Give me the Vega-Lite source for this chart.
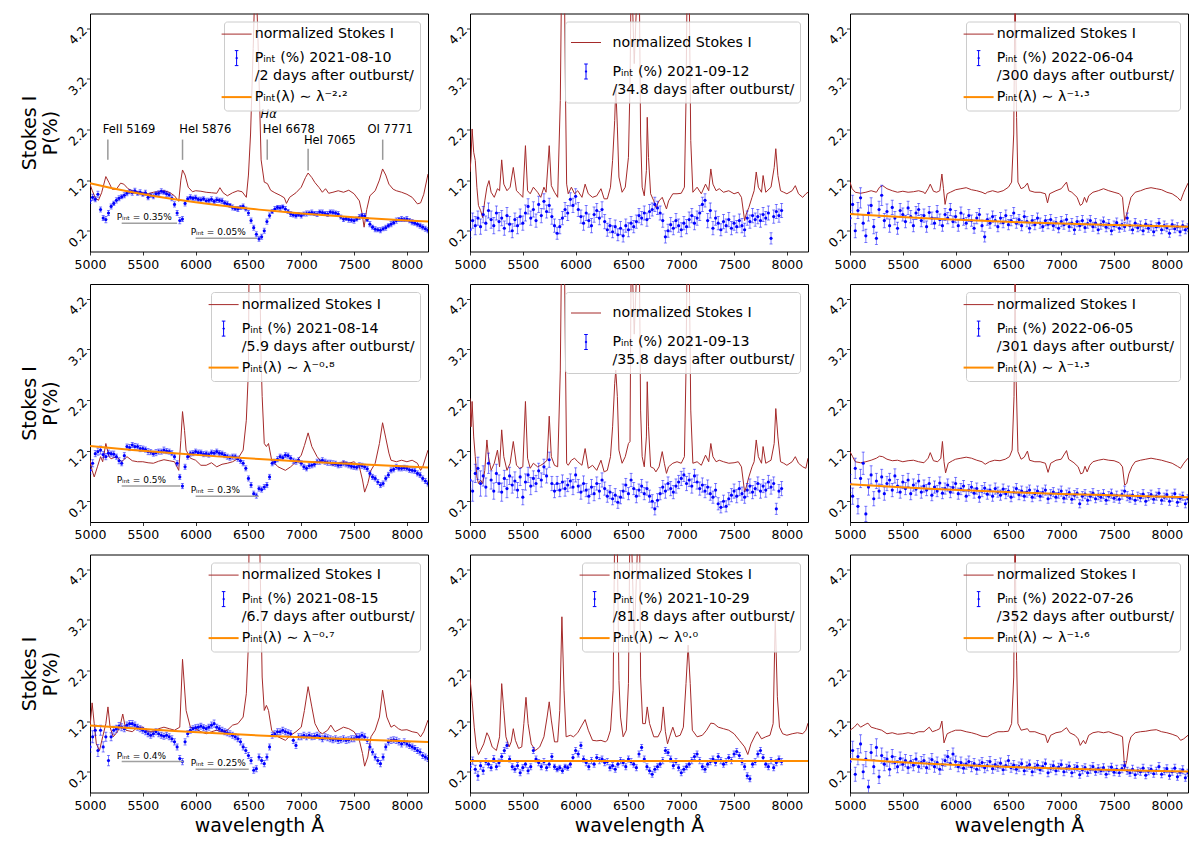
{
"$schema": "https://vega.github.io/schema/vega-lite/v6.json",
"padding": {"left": 19, "top": 12.5, "right": 10, "bottom": 4},
"background": "white",
"config": {
  "font": "DejaVu Sans",
  "view": {"stroke": "black", "strokeWidth": 1},
  "axis": {"grid": false, "domain": false, "tickColor": "black", "tickSize": 3.5, "tickWidth": 0.8, "labelColor": "black", "labelFontSize": 12.5, "labelFont": "DejaVu Sans", "titleFont": "DejaVu Sans", "titleFontSize": 19, "titleFontWeight": "normal", "titleColor": "black"},
  "axisY": {"labelAngle": -45, "labelPadding": 2, "titlePadding": 6, "titleLineHeight": 21},
  "axisX": {"labelPadding": 3, "titlePadding": 5},
  "legend": {"orient": "top-right", "offset": 8, "fillColor": "rgba(255,255,255,0.8)", "strokeColor": "#cccccc", "cornerRadius": 3, "padding": 5.5, "symbolSize": 900, "symbolType": "stroke", "symbolStrokeWidth": 1, "labelFontSize": 14.2, "labelLimit": 320, "labelOffset": 11, "rowPadding": 6, "labelFont": "DejaVu Sans", "labelColor": "black"}
},
"datasets": {
"i11": [{"w":5000,"y":1.12},{"w":5020,"y":1.0},{"w":5050,"y":0.85},{"w":5080,"y":0.8},{"w":5110,"y":0.95},{"w":5150,"y":1.27},{"w":5180,"y":1.15},{"w":5210,"y":1.02},{"w":5250,"y":1.02},{"w":5290,"y":1.14},{"w":5320,"y":1.12},{"w":5360,"y":1.03},{"w":5400,"y":0.99},{"w":5450,"y":0.97},{"w":5500,"y":0.95},{"w":5550,"y":0.93},{"w":5600,"y":0.96},{"w":5650,"y":0.97},{"w":5700,"y":0.99},{"w":5750,"y":0.96},{"w":5800,"y":0.89},{"w":5840,"y":0.78},{"w":5860,"y":1.2},{"w":5876,"y":1.4},{"w":5900,"y":1.3},{"w":5930,"y":1.06},{"w":5970,"y":0.97},{"w":6000,"y":0.99},{"w":6050,"y":0.98},{"w":6100,"y":0.96},{"w":6150,"y":0.95},{"w":6200,"y":0.94},{"w":6230,"y":1.05},{"w":6260,"y":0.95},{"w":6300,"y":0.89},{"w":6350,"y":0.95},{"w":6400,"y":0.99},{"w":6440,"y":0.97},{"w":6480,"y":0.86},{"w":6500,"y":1.3},{"w":6520,"y":2.11},{"w":6545,"y":3.8},{"w":6567,"y":5.5},{"w":6590,"y":4.0},{"w":6605,"y":2.8},{"w":6620,"y":1.6},{"w":6650,"y":1.16},{"w":6680,"y":1.13},{"w":6710,"y":1.0},{"w":6750,"y":0.95},{"w":6800,"y":0.9},{"w":6840,"y":0.85},{"w":6860,"y":0.74},{"w":6890,"y":0.86},{"w":6950,"y":0.95},{"w":7000,"y":1.06},{"w":7040,"y":1.25},{"w":7065,"y":1.34},{"w":7100,"y":1.25},{"w":7130,"y":1.15},{"w":7170,"y":1.05},{"w":7200,"y":0.96},{"w":7230,"y":1.03},{"w":7260,"y":0.94},{"w":7300,"y":0.96},{"w":7350,"y":0.99},{"w":7400,"y":0.96},{"w":7450,"y":1.0},{"w":7500,"y":0.93},{"w":7550,"y":0.79},{"w":7575,"y":0.55},{"w":7595,"y":0.27},{"w":7620,"y":0.62},{"w":7650,"y":0.89},{"w":7700,"y":0.99},{"w":7740,"y":1.2},{"w":7770,"y":1.42},{"w":7800,"y":1.3},{"w":7830,"y":1.12},{"w":7870,"y":1.02},{"w":7900,"y":0.99},{"w":7950,"y":0.96},{"w":8000,"y":0.92},{"w":8050,"y":0.86},{"w":8100,"y":0.73},{"w":8130,"y":0.75},{"w":8160,"y":0.92},{"w":8200,"y":1.32}],
"p11": [{"w":5000,"y":0.79,"e":0.05},{"w":5025,"y":0.86,"e":0.06},{"w":5050,"y":0.82,"e":0.05},{"w":5075,"y":0.92,"e":0.06},{"w":5100,"y":0.62,"e":0.05},{"w":5125,"y":0.45,"e":0.05},{"w":5150,"y":0.42,"e":0.06},{"w":5175,"y":0.55,"e":0.05},{"w":5200,"y":0.68,"e":0.05},{"w":5225,"y":0.74,"e":0.04},{"w":5250,"y":0.8,"e":0.05},{"w":5275,"y":0.84,"e":0.05},{"w":5300,"y":0.87,"e":0.04},{"w":5325,"y":0.9,"e":0.05},{"w":5350,"y":0.94,"e":0.05},{"w":5375,"y":0.97,"e":0.04},{"w":5400,"y":0.95,"e":0.05},{"w":5425,"y":0.99,"e":0.05},{"w":5450,"y":0.94,"e":0.04},{"w":5475,"y":0.96,"e":0.05},{"w":5500,"y":0.92,"e":0.04},{"w":5525,"y":0.95,"e":0.05},{"w":5550,"y":0.86,"e":0.05},{"w":5575,"y":0.9,"e":0.04},{"w":5600,"y":0.88,"e":0.05},{"w":5625,"y":0.93,"e":0.04},{"w":5650,"y":0.94,"e":0.05},{"w":5675,"y":0.98,"e":0.05},{"w":5700,"y":0.96,"e":0.04},{"w":5725,"y":0.93,"e":0.05},{"w":5750,"y":0.91,"e":0.04},{"w":5775,"y":0.84,"e":0.05},{"w":5800,"y":0.72,"e":0.05},{"w":5825,"y":0.55,"e":0.05},{"w":5850,"y":0.4,"e":0.06},{"w":5875,"y":0.43,"e":0.05},{"w":5900,"y":0.74,"e":0.05},{"w":5925,"y":0.83,"e":0.04},{"w":5950,"y":0.86,"e":0.05},{"w":5975,"y":0.84,"e":0.04},{"w":6000,"y":0.85,"e":0.05},{"w":6025,"y":0.82,"e":0.04},{"w":6050,"y":0.81,"e":0.05},{"w":6075,"y":0.83,"e":0.04},{"w":6100,"y":0.79,"e":0.05},{"w":6125,"y":0.8,"e":0.04},{"w":6150,"y":0.82,"e":0.05},{"w":6175,"y":0.78,"e":0.04},{"w":6200,"y":0.81,"e":0.05},{"w":6225,"y":0.8,"e":0.04},{"w":6250,"y":0.79,"e":0.05},{"w":6275,"y":0.75,"e":0.04},{"w":6300,"y":0.73,"e":0.05},{"w":6325,"y":0.7,"e":0.04},{"w":6350,"y":0.66,"e":0.05},{"w":6375,"y":0.64,"e":0.04},{"w":6400,"y":0.63,"e":0.05},{"w":6425,"y":0.66,"e":0.04},{"w":6450,"y":0.68,"e":0.05},{"w":6475,"y":0.63,"e":0.04},{"w":6500,"y":0.55,"e":0.05},{"w":6525,"y":0.4,"e":0.05},{"w":6550,"y":0.26,"e":0.05},{"w":6575,"y":0.13,"e":0.05},{"w":6600,"y":0.04,"e":0.05},{"w":6625,"y":0.08,"e":0.05},{"w":6650,"y":0.2,"e":0.05},{"w":6675,"y":0.38,"e":0.05},{"w":6700,"y":0.5,"e":0.05},{"w":6725,"y":0.58,"e":0.04},{"w":6750,"y":0.63,"e":0.05},{"w":6775,"y":0.66,"e":0.04},{"w":6800,"y":0.65,"e":0.05},{"w":6825,"y":0.67,"e":0.04},{"w":6850,"y":0.63,"e":0.05},{"w":6875,"y":0.58,"e":0.04},{"w":6900,"y":0.53,"e":0.05},{"w":6925,"y":0.51,"e":0.04},{"w":6950,"y":0.5,"e":0.05},{"w":6975,"y":0.52,"e":0.04},{"w":7000,"y":0.5,"e":0.05},{"w":7025,"y":0.53,"e":0.04},{"w":7050,"y":0.54,"e":0.05},{"w":7075,"y":0.55,"e":0.04},{"w":7100,"y":0.56,"e":0.05},{"w":7125,"y":0.54,"e":0.04},{"w":7150,"y":0.53,"e":0.05},{"w":7175,"y":0.57,"e":0.04},{"w":7200,"y":0.56,"e":0.05},{"w":7225,"y":0.54,"e":0.04},{"w":7250,"y":0.53,"e":0.05},{"w":7275,"y":0.57,"e":0.04},{"w":7300,"y":0.56,"e":0.05},{"w":7325,"y":0.55,"e":0.04},{"w":7350,"y":0.53,"e":0.05},{"w":7375,"y":0.47,"e":0.04},{"w":7400,"y":0.43,"e":0.05},{"w":7425,"y":0.44,"e":0.04},{"w":7450,"y":0.42,"e":0.05},{"w":7475,"y":0.41,"e":0.04},{"w":7500,"y":0.4,"e":0.05},{"w":7525,"y":0.43,"e":0.04},{"w":7550,"y":0.47,"e":0.05},{"w":7575,"y":0.5,"e":0.04},{"w":7600,"y":0.49,"e":0.05},{"w":7625,"y":0.42,"e":0.04},{"w":7650,"y":0.33,"e":0.05},{"w":7675,"y":0.27,"e":0.04},{"w":7700,"y":0.23,"e":0.05},{"w":7725,"y":0.22,"e":0.04},{"w":7750,"y":0.21,"e":0.05},{"w":7775,"y":0.24,"e":0.04},{"w":7800,"y":0.26,"e":0.05},{"w":7825,"y":0.3,"e":0.04},{"w":7850,"y":0.33,"e":0.05},{"w":7875,"y":0.36,"e":0.04},{"w":7900,"y":0.4,"e":0.05},{"w":7925,"y":0.42,"e":0.04},{"w":7950,"y":0.43,"e":0.05},{"w":7975,"y":0.42,"e":0.04},{"w":8000,"y":0.43,"e":0.05},{"w":8025,"y":0.4,"e":0.04},{"w":8050,"y":0.37,"e":0.05},{"w":8075,"y":0.35,"e":0.04},{"w":8100,"y":0.33,"e":0.05},{"w":8125,"y":0.3,"e":0.05},{"w":8150,"y":0.27,"e":0.05},{"w":8175,"y":0.24,"e":0.05},{"w":8200,"y":0.21,"e":0.05}],
"f11": [{"w":5000,"y":1.137},{"w":5200,"y":1.043},{"w":5400,"y":0.96},{"w":5600,"y":0.886},{"w":5800,"y":0.82},{"w":6000,"y":0.761},{"w":6200,"y":0.708},{"w":6400,"y":0.661},{"w":6600,"y":0.617},{"w":6800,"y":0.578},{"w":7000,"y":0.542},{"w":7200,"y":0.51},{"w":7400,"y":0.48},{"w":7600,"y":0.453},{"w":7800,"y":0.427},{"w":8000,"y":0.404},{"w":8200,"y":0.383}],
"t11": [{"w":5120,"y":2.18,"t":"FeII 5169"},{"w":5845,"y":2.18,"t":"HeI 5876"},{"w":6636,"y":2.18,"t":"HeI 6678"},{"w":7025,"y":1.98,"t":"HeI 7065"},{"w":7627,"y":2.18,"t":"OI 7771"}],
"ha11": [{"w":6614,"y":2.49,"t":"Hα"}],
"r11": [{"w":5169,"y":2.0,"y2":1.6},{"w":5876,"y":2.0,"y2":1.6},{"w":6678,"y":2.0,"y2":1.6},{"w":7065,"y":1.82,"y2":1.39},{"w":7771,"y":2.0,"y2":1.6}],
"h11": [{"w":5300,"w2":5825,"y":0.35,"t":"Pᵢₙₜ = 0.35%"},{"w":6000,"w2":6583,"y":0.05,"t":"Pᵢₙₜ = 0.05%"}],
"i21": [{"w":5000,"y":1.01},{"w":5020,"y":0.81},{"w":5040,"y":0.68},{"w":5070,"y":0.88},{"w":5100,"y":1.08},{"w":5120,"y":0.98},{"w":5150,"y":1.34},{"w":5180,"y":1.08},{"w":5200,"y":1.04},{"w":5250,"y":1.08},{"w":5300,"y":0.98},{"w":5350,"y":1.08},{"w":5400,"y":1.0},{"w":5450,"y":0.98},{"w":5500,"y":0.98},{"w":5550,"y":0.96},{"w":5600,"y":0.95},{"w":5650,"y":0.99},{"w":5700,"y":1.02},{"w":5750,"y":1.0},{"w":5800,"y":0.98},{"w":5840,"y":0.81},{"w":5860,"y":1.4},{"w":5876,"y":1.97},{"w":5895,"y":1.6},{"w":5910,"y":1.21},{"w":5950,"y":1.05},{"w":6000,"y":1.01},{"w":6050,"y":0.91},{"w":6100,"y":0.91},{"w":6150,"y":0.96},{"w":6200,"y":0.88},{"w":6250,"y":0.93},{"w":6300,"y":0.95},{"w":6350,"y":0.98},{"w":6400,"y":1.04},{"w":6450,"y":1.21},{"w":6480,"y":1.8},{"w":6500,"y":2.79},{"w":6505,"y":4.6},{"w":6520,"y":5.5},{"w":6590,"y":5.5},{"w":6608,"y":4.6},{"w":6620,"y":3.0},{"w":6630,"y":2.27},{"w":6650,"y":1.34},{"w":6670,"y":1.28},{"w":6690,"y":1.34},{"w":6720,"y":1.01},{"w":6780,"y":0.88},{"w":6850,"y":0.81},{"w":6900,"y":0.88},{"w":6950,"y":0.98},{"w":7000,"y":1.11},{"w":7030,"y":1.3},{"w":7065,"y":1.55},{"w":7100,"y":1.28},{"w":7150,"y":1.08},{"w":7200,"y":0.96},{"w":7250,"y":0.98},{"w":7300,"y":0.91},{"w":7350,"y":0.95},{"w":7400,"y":0.98},{"w":7450,"y":0.95},{"w":7500,"y":0.98},{"w":7550,"y":0.88},{"w":7580,"y":0.62},{"w":7600,"y":0.38},{"w":7630,"y":0.55},{"w":7660,"y":0.81},{"w":7700,"y":0.95},{"w":7740,"y":1.34},{"w":7770,"y":1.75},{"w":7800,"y":1.45},{"w":7830,"y":1.15},{"w":7850,"y":1.01},{"w":7900,"y":0.98},{"w":7950,"y":1.01},{"w":8000,"y":0.98},{"w":8050,"y":1.01},{"w":8100,"y":0.95},{"w":8130,"y":0.81},{"w":8150,"y":0.88},{"w":8200,"y":1.21}],
"p21": [{"w":5000,"y":0.81,"e":0.07},{"w":5025,"y":0.95,"e":0.07},{"w":5050,"y":1.14,"e":0.06},{"w":5075,"y":1.18,"e":0.07},{"w":5100,"y":1.21,"e":0.08},{"w":5125,"y":1.12,"e":0.06},{"w":5150,"y":1.08,"e":0.06},{"w":5175,"y":1.15,"e":0.06},{"w":5200,"y":1.14,"e":0.05},{"w":5225,"y":1.13,"e":0.06},{"w":5250,"y":1.08,"e":0.05},{"w":5275,"y":1.0,"e":0.06},{"w":5300,"y":0.95,"e":0.05},{"w":5325,"y":1.1,"e":0.06},{"w":5350,"y":1.28,"e":0.05},{"w":5375,"y":1.26,"e":0.06},{"w":5400,"y":1.31,"e":0.05},{"w":5425,"y":1.28,"e":0.06},{"w":5450,"y":1.28,"e":0.05},{"w":5475,"y":1.24,"e":0.06},{"w":5500,"y":1.24,"e":0.05},{"w":5525,"y":1.22,"e":0.05},{"w":5550,"y":1.18,"e":0.06},{"w":5575,"y":1.17,"e":0.05},{"w":5600,"y":1.14,"e":0.05},{"w":5625,"y":1.16,"e":0.06},{"w":5650,"y":1.18,"e":0.05},{"w":5675,"y":1.18,"e":0.05},{"w":5700,"y":1.21,"e":0.06},{"w":5725,"y":1.19,"e":0.05},{"w":5750,"y":1.18,"e":0.05},{"w":5775,"y":1.15,"e":0.05},{"w":5800,"y":1.08,"e":0.05},{"w":5825,"y":0.95,"e":0.05},{"w":5850,"y":0.68,"e":0.05},{"w":5875,"y":0.5,"e":0.05},{"w":5900,"y":0.88,"e":0.05},{"w":5925,"y":1.08,"e":0.05},{"w":5950,"y":1.14,"e":0.05},{"w":5975,"y":1.15,"e":0.05},{"w":6000,"y":1.18,"e":0.05},{"w":6025,"y":1.16,"e":0.05},{"w":6050,"y":1.16,"e":0.05},{"w":6075,"y":1.13,"e":0.05},{"w":6100,"y":1.14,"e":0.05},{"w":6125,"y":1.12,"e":0.05},{"w":6150,"y":1.16,"e":0.05},{"w":6175,"y":1.15,"e":0.05},{"w":6200,"y":1.18,"e":0.05},{"w":6225,"y":1.15,"e":0.05},{"w":6250,"y":1.14,"e":0.05},{"w":6275,"y":1.11,"e":0.05},{"w":6300,"y":1.08,"e":0.05},{"w":6325,"y":1.06,"e":0.05},{"w":6350,"y":1.08,"e":0.05},{"w":6375,"y":1.08,"e":0.05},{"w":6400,"y":1.04,"e":0.05},{"w":6425,"y":1.0,"e":0.05},{"w":6450,"y":0.95,"e":0.05},{"w":6475,"y":0.85,"e":0.05},{"w":6500,"y":0.65,"e":0.05},{"w":6525,"y":0.52,"e":0.05},{"w":6550,"y":0.35,"e":0.05},{"w":6575,"y":0.31,"e":0.05},{"w":6600,"y":0.45,"e":0.05},{"w":6625,"y":0.43,"e":0.05},{"w":6650,"y":0.48,"e":0.05},{"w":6675,"y":0.52,"e":0.05},{"w":6700,"y":0.68,"e":0.05},{"w":6725,"y":0.95,"e":0.05},{"w":6750,"y":0.98,"e":0.05},{"w":6775,"y":1.03,"e":0.05},{"w":6800,"y":1.08,"e":0.05},{"w":6825,"y":1.06,"e":0.05},{"w":6850,"y":1.11,"e":0.05},{"w":6875,"y":1.1,"e":0.05},{"w":6900,"y":1.05,"e":0.05},{"w":6925,"y":1.0,"e":0.05},{"w":6950,"y":0.98,"e":0.05},{"w":6975,"y":1.01,"e":0.05},{"w":7000,"y":0.95,"e":0.05},{"w":7025,"y":0.88,"e":0.05},{"w":7050,"y":0.85,"e":0.05},{"w":7075,"y":0.9,"e":0.05},{"w":7100,"y":0.91,"e":0.05},{"w":7125,"y":0.93,"e":0.05},{"w":7150,"y":0.98,"e":0.05},{"w":7175,"y":0.98,"e":0.05},{"w":7200,"y":1.01,"e":0.05},{"w":7225,"y":0.98,"e":0.05},{"w":7250,"y":0.96,"e":0.05},{"w":7275,"y":0.96,"e":0.05},{"w":7300,"y":0.95,"e":0.05},{"w":7325,"y":0.94,"e":0.05},{"w":7350,"y":0.91,"e":0.05},{"w":7375,"y":0.92,"e":0.05},{"w":7400,"y":0.95,"e":0.05},{"w":7425,"y":0.93,"e":0.05},{"w":7450,"y":0.91,"e":0.05},{"w":7475,"y":0.89,"e":0.05},{"w":7500,"y":0.88,"e":0.05},{"w":7525,"y":0.87,"e":0.05},{"w":7550,"y":0.91,"e":0.05},{"w":7575,"y":0.9,"e":0.05},{"w":7600,"y":0.88,"e":0.05},{"w":7625,"y":0.84,"e":0.05},{"w":7650,"y":0.75,"e":0.05},{"w":7675,"y":0.68,"e":0.05},{"w":7700,"y":0.65,"e":0.05},{"w":7725,"y":0.58,"e":0.05},{"w":7750,"y":0.52,"e":0.05},{"w":7775,"y":0.55,"e":0.05},{"w":7800,"y":0.65,"e":0.05},{"w":7825,"y":0.72,"e":0.05},{"w":7850,"y":0.81,"e":0.05},{"w":7875,"y":0.83,"e":0.05},{"w":7900,"y":0.88,"e":0.05},{"w":7925,"y":0.85,"e":0.05},{"w":7950,"y":0.85,"e":0.05},{"w":7975,"y":0.86,"e":0.05},{"w":8000,"y":0.85,"e":0.05},{"w":8025,"y":0.82,"e":0.05},{"w":8050,"y":0.81,"e":0.05},{"w":8075,"y":0.8,"e":0.05},{"w":8100,"y":0.75,"e":0.05},{"w":8125,"y":0.72,"e":0.05},{"w":8150,"y":0.65,"e":0.05},{"w":8175,"y":0.6,"e":0.05},{"w":8200,"y":0.55,"e":0.05}],
"f21": [{"w":5000,"y":1.29},{"w":5400,"y":1.213},{"w":5800,"y":1.146},{"w":6200,"y":1.086},{"w":6600,"y":1.033},{"w":7000,"y":0.986},{"w":7400,"y":0.943},{"w":7800,"y":0.904},{"w":8200,"y":0.868}],
"h21": [{"w":5300,"w2":5855,"y":0.5,"t":"Pᵢₙₜ = 0.5%"},{"w":6000,"w2":6598,"y":0.3,"t":"Pᵢₙₜ = 0.3%"}],
"i31": [{"w":5000,"y":1.08},{"w":5020,"y":1.56},{"w":5040,"y":1.15},{"w":5060,"y":0.75},{"w":5090,"y":0.62},{"w":5120,"y":0.89},{"w":5150,"y":1.15},{"w":5170,"y":1.48},{"w":5190,"y":1.08},{"w":5220,"y":0.89},{"w":5260,"y":0.99},{"w":5290,"y":1.15},{"w":5310,"y":1.34},{"w":5340,"y":1.02},{"w":5400,"y":0.99},{"w":5450,"y":1.08},{"w":5500,"y":1.08},{"w":5550,"y":0.99},{"w":5600,"y":0.99},{"w":5650,"y":1.05},{"w":5700,"y":1.08},{"w":5750,"y":1.05},{"w":5800,"y":1.02},{"w":5850,"y":1.08},{"w":5876,"y":2.42},{"w":5910,"y":1.41},{"w":5950,"y":1.08},{"w":6000,"y":1.05},{"w":6050,"y":0.99},{"w":6100,"y":0.95},{"w":6150,"y":0.99},{"w":6200,"y":1.02},{"w":6250,"y":0.99},{"w":6300,"y":1.02},{"w":6350,"y":1.12},{"w":6400,"y":1.15},{"w":6450,"y":1.28},{"w":6480,"y":1.74},{"w":6500,"y":2.73},{"w":6505,"y":4.6},{"w":6540,"y":5.5},{"w":6590,"y":5.5},{"w":6608,"y":4.6},{"w":6630,"y":2.07},{"w":6650,"y":1.41},{"w":6670,"y":1.51},{"w":6690,"y":1.41},{"w":6720,"y":1.02},{"w":6780,"y":0.89},{"w":6850,"y":0.82},{"w":6900,"y":0.92},{"w":6950,"y":0.99},{"w":7000,"y":1.08},{"w":7030,"y":1.41},{"w":7065,"y":1.88},{"w":7100,"y":1.48},{"w":7130,"y":1.15},{"w":7170,"y":0.99},{"w":7200,"y":0.95},{"w":7250,"y":1.02},{"w":7280,"y":1.12},{"w":7320,"y":0.99},{"w":7400,"y":1.08},{"w":7450,"y":1.05},{"w":7500,"y":0.99},{"w":7550,"y":0.82},{"w":7580,"y":0.56},{"w":7600,"y":0.31},{"w":7630,"y":0.49},{"w":7660,"y":0.89},{"w":7700,"y":1.02},{"w":7740,"y":1.28},{"w":7770,"y":1.81},{"w":7810,"y":1.28},{"w":7850,"y":1.08},{"w":7880,"y":1.12},{"w":7920,"y":1.05},{"w":7950,"y":1.02},{"w":8000,"y":1.03},{"w":8050,"y":0.99},{"w":8100,"y":0.97},{"w":8130,"y":0.89},{"w":8160,"y":0.99},{"w":8200,"y":1.22}],
"p31": [{"w":5000,"y":0.69,"e":0.1},{"w":5025,"y":0.89,"e":0.12},{"w":5050,"y":1.02,"e":0.1},{"w":5075,"y":0.62,"e":0.12},{"w":5100,"y":1.02,"e":0.1},{"w":5125,"y":0.69,"e":0.1},{"w":5150,"y":0.89,"e":0.09},{"w":5175,"y":0.42,"e":0.1},{"w":5200,"y":0.89,"e":0.08},{"w":5225,"y":1.02,"e":0.08},{"w":5250,"y":1.05,"e":0.07},{"w":5275,"y":1.1,"e":0.07},{"w":5300,"y":1.08,"e":0.07},{"w":5325,"y":1.05,"e":0.06},{"w":5350,"y":1.12,"e":0.06},{"w":5375,"y":1.15,"e":0.06},{"w":5400,"y":1.15,"e":0.06},{"w":5425,"y":1.12,"e":0.06},{"w":5450,"y":1.08,"e":0.06},{"w":5475,"y":1.05,"e":0.06},{"w":5500,"y":1.02,"e":0.06},{"w":5525,"y":0.99,"e":0.06},{"w":5550,"y":0.95,"e":0.06},{"w":5575,"y":0.92,"e":0.06},{"w":5600,"y":0.95,"e":0.06},{"w":5625,"y":0.99,"e":0.06},{"w":5650,"y":0.95,"e":0.06},{"w":5675,"y":0.92,"e":0.06},{"w":5700,"y":0.9,"e":0.06},{"w":5725,"y":0.92,"e":0.06},{"w":5750,"y":0.89,"e":0.06},{"w":5775,"y":0.85,"e":0.06},{"w":5800,"y":0.79,"e":0.06},{"w":5825,"y":0.69,"e":0.06},{"w":5850,"y":0.46,"e":0.06},{"w":5875,"y":0.4,"e":0.06},{"w":5900,"y":0.79,"e":0.06},{"w":5925,"y":0.95,"e":0.06},{"w":5950,"y":1.02,"e":0.06},{"w":5975,"y":1.05,"e":0.06},{"w":6000,"y":1.07,"e":0.06},{"w":6025,"y":1.08,"e":0.06},{"w":6050,"y":1.1,"e":0.06},{"w":6075,"y":1.07,"e":0.06},{"w":6100,"y":1.05,"e":0.06},{"w":6125,"y":1.08,"e":0.06},{"w":6150,"y":1.12,"e":0.06},{"w":6175,"y":1.15,"e":0.07},{"w":6200,"y":1.08,"e":0.06},{"w":6225,"y":1.05,"e":0.06},{"w":6250,"y":1.02,"e":0.06},{"w":6275,"y":0.99,"e":0.06},{"w":6300,"y":0.97,"e":0.06},{"w":6325,"y":0.95,"e":0.06},{"w":6350,"y":0.92,"e":0.06},{"w":6375,"y":0.89,"e":0.06},{"w":6400,"y":0.85,"e":0.06},{"w":6425,"y":0.79,"e":0.06},{"w":6450,"y":0.69,"e":0.06},{"w":6475,"y":0.62,"e":0.06},{"w":6500,"y":0.52,"e":0.06},{"w":6525,"y":0.42,"e":0.06},{"w":6550,"y":0.23,"e":0.06},{"w":6575,"y":0.26,"e":0.06},{"w":6600,"y":0.49,"e":0.06},{"w":6625,"y":0.42,"e":0.06},{"w":6650,"y":0.36,"e":0.06},{"w":6675,"y":0.49,"e":0.06},{"w":6700,"y":0.69,"e":0.06},{"w":6725,"y":0.92,"e":0.06},{"w":6750,"y":0.95,"e":0.06},{"w":6775,"y":0.99,"e":0.06},{"w":6800,"y":0.99,"e":0.06},{"w":6825,"y":1.02,"e":0.06},{"w":6850,"y":0.99,"e":0.06},{"w":6875,"y":0.97,"e":0.06},{"w":6900,"y":0.95,"e":0.06},{"w":6925,"y":0.82,"e":0.06},{"w":6950,"y":0.72,"e":0.06},{"w":6975,"y":0.89,"e":0.06},{"w":7000,"y":0.89,"e":0.06},{"w":7025,"y":0.92,"e":0.06},{"w":7050,"y":0.89,"e":0.06},{"w":7075,"y":0.92,"e":0.06},{"w":7100,"y":0.89,"e":0.06},{"w":7125,"y":0.9,"e":0.06},{"w":7150,"y":0.92,"e":0.06},{"w":7175,"y":0.89,"e":0.06},{"w":7200,"y":0.85,"e":0.06},{"w":7225,"y":0.89,"e":0.06},{"w":7250,"y":0.87,"e":0.06},{"w":7275,"y":0.85,"e":0.06},{"w":7300,"y":0.83,"e":0.06},{"w":7325,"y":0.85,"e":0.06},{"w":7350,"y":0.82,"e":0.06},{"w":7375,"y":0.83,"e":0.06},{"w":7400,"y":0.85,"e":0.06},{"w":7425,"y":0.82,"e":0.06},{"w":7450,"y":0.83,"e":0.06},{"w":7475,"y":0.85,"e":0.06},{"w":7500,"y":0.85,"e":0.06},{"w":7525,"y":0.89,"e":0.06},{"w":7550,"y":0.89,"e":0.06},{"w":7575,"y":0.92,"e":0.06},{"w":7600,"y":0.89,"e":0.06},{"w":7625,"y":0.82,"e":0.06},{"w":7650,"y":0.69,"e":0.06},{"w":7675,"y":0.59,"e":0.06},{"w":7700,"y":0.49,"e":0.06},{"w":7725,"y":0.42,"e":0.06},{"w":7750,"y":0.36,"e":0.06},{"w":7775,"y":0.49,"e":0.06},{"w":7800,"y":0.69,"e":0.06},{"w":7825,"y":0.79,"e":0.06},{"w":7850,"y":0.82,"e":0.06},{"w":7875,"y":0.83,"e":0.06},{"w":7900,"y":0.82,"e":0.06},{"w":7925,"y":0.79,"e":0.06},{"w":7950,"y":0.75,"e":0.06},{"w":7975,"y":0.79,"e":0.06},{"w":8000,"y":0.75,"e":0.06},{"w":8025,"y":0.72,"e":0.06},{"w":8050,"y":0.69,"e":0.06},{"w":8075,"y":0.66,"e":0.06},{"w":8100,"y":0.62,"e":0.06},{"w":8125,"y":0.59,"e":0.06},{"w":8150,"y":0.52,"e":0.06},{"w":8175,"y":0.49,"e":0.06},{"w":8200,"y":0.46,"e":0.06}],
"f31": [{"w":5000,"y":1.115},{"w":5400,"y":1.057},{"w":5800,"y":1.005},{"w":6200,"y":0.959},{"w":6600,"y":0.918},{"w":7000,"y":0.881},{"w":7400,"y":0.847},{"w":7800,"y":0.817},{"w":8200,"y":0.789}],
"h31": [{"w":5300,"w2":5886,"y":0.4,"t":"Pᵢₙₜ = 0.4%"},{"w":6000,"w2":6503,"y":0.25,"t":"Pᵢₙₜ = 0.25%"}],
"i12": [{"w":5000,"y":1.36},{"w":5010,"y":1.65},{"w":5020,"y":2.21},{"w":5035,"y":1.75},{"w":5050,"y":1.59},{"w":5065,"y":1.06},{"w":5080,"y":0.7},{"w":5100,"y":0.6},{"w":5120,"y":0.46},{"w":5140,"y":0.79},{"w":5160,"y":1.06},{"w":5180,"y":1.19},{"w":5200,"y":0.96},{"w":5230,"y":0.86},{"w":5260,"y":1.03},{"w":5280,"y":0.99},{"w":5300,"y":1.6},{"w":5320,"y":1.12},{"w":5350,"y":0.99},{"w":5380,"y":1.06},{"w":5410,"y":1.45},{"w":5440,"y":0.99},{"w":5470,"y":0.93},{"w":5500,"y":0.86},{"w":5525,"y":1.88},{"w":5545,"y":0.99},{"w":5570,"y":0.93},{"w":5600,"y":1.06},{"w":5640,"y":0.96},{"w":5670,"y":0.86},{"w":5700,"y":1.06},{"w":5720,"y":0.96},{"w":5750,"y":1.88},{"w":5770,"y":1.09},{"w":5800,"y":0.96},{"w":5830,"y":0.86},{"w":5855,"y":2.77},{"w":5865,"y":4.8},{"w":5880,"y":5.5},{"w":5895,"y":4.8},{"w":5905,"y":2.77},{"w":5915,"y":1.12},{"w":5930,"y":0.93},{"w":5960,"y":1.06},{"w":5990,"y":0.93},{"w":6020,"y":0.99},{"w":6060,"y":0.86},{"w":6090,"y":1.12},{"w":6120,"y":0.93},{"w":6160,"y":0.86},{"w":6200,"y":0.89},{"w":6240,"y":1.03},{"w":6270,"y":0.83},{"w":6300,"y":0.83},{"w":6330,"y":1.06},{"w":6350,"y":1.59},{"w":6370,"y":2.38},{"w":6380,"y":3.04},{"w":6395,"y":2.25},{"w":6410,"y":1.26},{"w":6440,"y":0.96},{"w":6470,"y":1.06},{"w":6500,"y":1.65},{"w":6515,"y":3.1},{"w":6527,"y":5.5},{"w":6540,"y":4.6},{"w":6555,"y":3.5},{"w":6575,"y":4.6},{"w":6590,"y":5.5},{"w":6605,"y":4.6},{"w":6615,"y":2.11},{"w":6630,"y":1.06},{"w":6650,"y":0.89},{"w":6670,"y":1.39},{"w":6678,"y":2.44},{"w":6690,"y":1.65},{"w":6710,"y":0.93},{"w":6740,"y":0.79},{"w":6760,"y":0.66},{"w":6790,"y":0.79},{"w":6820,"y":0.86},{"w":6860,"y":0.63},{"w":6880,"y":0.79},{"w":6920,"y":0.93},{"w":6960,"y":0.93},{"w":7000,"y":0.94},{"w":7030,"y":1.06},{"w":7045,"y":2.77},{"w":7055,"y":5.0},{"w":7075,"y":5.0},{"w":7090,"y":1.98},{"w":7110,"y":0.96},{"w":7150,"y":1.06},{"w":7190,"y":0.93},{"w":7230,"y":1.12},{"w":7260,"y":0.99},{"w":7280,"y":1.42},{"w":7300,"y":1.12},{"w":7330,"y":0.99},{"w":7360,"y":1.03},{"w":7400,"y":0.96},{"w":7450,"y":0.99},{"w":7500,"y":0.93},{"w":7540,"y":0.96},{"w":7570,"y":0.86},{"w":7600,"y":0.4},{"w":7615,"y":0.53},{"w":7640,"y":0.66},{"w":7670,"y":0.86},{"w":7690,"y":0.99},{"w":7710,"y":1.36},{"w":7730,"y":1.06},{"w":7760,"y":0.96},{"w":7775,"y":1.29},{"w":7800,"y":0.96},{"w":7850,"y":1.06},{"w":7880,"y":1.45},{"w":7895,"y":1.82},{"w":7915,"y":1.29},{"w":7940,"y":0.99},{"w":7970,"y":0.96},{"w":8000,"y":0.93},{"w":8050,"y":0.99},{"w":8080,"y":1.09},{"w":8110,"y":0.93},{"w":8150,"y":0.86},{"w":8180,"y":0.93},{"w":8200,"y":0.96}],
"p12": [{"w":5000,"y":0.22,"e":0.16},{"w":5025,"y":0.4,"e":0.15},{"w":5050,"y":0.3,"e":0.18},{"w":5075,"y":0.45,"e":0.14},{"w":5100,"y":0.28,"e":0.15},{"w":5125,"y":0.52,"e":0.16},{"w":5150,"y":0.35,"e":0.14},{"w":5175,"y":0.6,"e":0.15},{"w":5200,"y":0.42,"e":0.17},{"w":5225,"y":0.3,"e":0.16},{"w":5250,"y":0.55,"e":0.14},{"w":5275,"y":0.38,"e":0.18},{"w":5300,"y":0.45,"e":0.15},{"w":5325,"y":0.25,"e":0.14},{"w":5350,"y":0.5,"e":0.16},{"w":5375,"y":0.33,"e":0.15},{"w":5400,"y":0.2,"e":0.14},{"w":5425,"y":0.42,"e":0.13},{"w":5450,"y":0.3,"e":0.16},{"w":5475,"y":0.48,"e":0.15},{"w":5500,"y":0.35,"e":0.14},{"w":5525,"y":0.55,"e":0.16},{"w":5550,"y":0.68,"e":0.15},{"w":5575,"y":0.45,"e":0.14},{"w":5600,"y":0.62,"e":0.15},{"w":5625,"y":0.4,"e":0.13},{"w":5650,"y":0.72,"e":0.16},{"w":5675,"y":0.5,"e":0.14},{"w":5700,"y":0.78,"e":0.15},{"w":5725,"y":0.58,"e":0.13},{"w":5750,"y":0.7,"e":0.14},{"w":5775,"y":0.48,"e":0.15},{"w":5800,"y":0.3,"e":0.13},{"w":5825,"y":0.15,"e":0.12},{"w":5850,"y":0.28,"e":0.14},{"w":5875,"y":0.45,"e":0.13},{"w":5900,"y":0.62,"e":0.14},{"w":5925,"y":0.55,"e":0.15},{"w":5950,"y":0.82,"e":0.13},{"w":5975,"y":0.7,"e":0.14},{"w":6000,"y":0.88,"e":0.15},{"w":6025,"y":0.62,"e":0.14},{"w":6050,"y":0.48,"e":0.13},{"w":6075,"y":0.35,"e":0.14},{"w":6100,"y":0.55,"e":0.15},{"w":6125,"y":0.4,"e":0.13},{"w":6150,"y":0.3,"e":0.14},{"w":6175,"y":0.52,"e":0.15},{"w":6200,"y":0.6,"e":0.14},{"w":6225,"y":0.45,"e":0.13},{"w":6250,"y":0.62,"e":0.15},{"w":6275,"y":0.38,"e":0.14},{"w":6300,"y":0.22,"e":0.13},{"w":6325,"y":0.3,"e":0.14},{"w":6350,"y":0.18,"e":0.12},{"w":6375,"y":0.28,"e":0.13},{"w":6400,"y":0.12,"e":0.12},{"w":6425,"y":0.25,"e":0.13},{"w":6450,"y":0.1,"e":0.12},{"w":6475,"y":0.3,"e":0.13},{"w":6500,"y":0.22,"e":0.14},{"w":6525,"y":0.35,"e":0.13},{"w":6550,"y":0.28,"e":0.12},{"w":6575,"y":0.38,"e":0.13},{"w":6600,"y":0.5,"e":0.14},{"w":6625,"y":0.45,"e":0.13},{"w":6650,"y":0.55,"e":0.14},{"w":6675,"y":0.42,"e":0.13},{"w":6700,"y":0.58,"e":0.14},{"w":6725,"y":0.62,"e":0.13},{"w":6750,"y":0.72,"e":0.14},{"w":6775,"y":0.65,"e":0.13},{"w":6800,"y":0.55,"e":0.14},{"w":6825,"y":0.4,"e":0.13},{"w":6850,"y":0.08,"e":0.12},{"w":6875,"y":0.2,"e":0.13},{"w":6900,"y":0.32,"e":0.14},{"w":6925,"y":0.25,"e":0.13},{"w":6950,"y":0.4,"e":0.14},{"w":6975,"y":0.3,"e":0.13},{"w":7000,"y":0.22,"e":0.14},{"w":7025,"y":0.35,"e":0.13},{"w":7050,"y":0.28,"e":0.14},{"w":7075,"y":0.42,"e":0.15},{"w":7100,"y":0.5,"e":0.14},{"w":7125,"y":0.35,"e":0.13},{"w":7150,"y":0.45,"e":0.14},{"w":7175,"y":0.55,"e":0.15},{"w":7200,"y":0.72,"e":0.14},{"w":7225,"y":0.8,"e":0.13},{"w":7250,"y":0.4,"e":0.14},{"w":7275,"y":0.6,"e":0.15},{"w":7300,"y":0.25,"e":0.13},{"w":7325,"y":0.45,"e":0.14},{"w":7350,"y":0.35,"e":0.13},{"w":7375,"y":0.22,"e":0.12},{"w":7400,"y":0.38,"e":0.14},{"w":7425,"y":0.3,"e":0.13},{"w":7450,"y":0.42,"e":0.14},{"w":7475,"y":0.25,"e":0.13},{"w":7500,"y":0.35,"e":0.14},{"w":7525,"y":0.28,"e":0.12},{"w":7550,"y":0.4,"e":0.13},{"w":7575,"y":0.3,"e":0.14},{"w":7600,"y":0.22,"e":0.13},{"w":7625,"y":0.45,"e":0.14},{"w":7650,"y":0.38,"e":0.13},{"w":7675,"y":0.5,"e":0.14},{"w":7700,"y":0.42,"e":0.13},{"w":7725,"y":0.48,"e":0.14},{"w":7750,"y":0.4,"e":0.13},{"w":7775,"y":0.52,"e":0.14},{"w":7800,"y":0.45,"e":0.13},{"w":7825,"y":0.55,"e":0.14},{"w":7850,"y":0.05,"e":0.11},{"w":7875,"y":0.48,"e":0.13},{"w":7900,"y":0.58,"e":0.14},{"w":7925,"y":0.5,"e":0.13},{"w":7950,"y":0.6,"e":0.14}],
"i22": [{"w":5000,"y":2.23},{"w":5010,"y":1.67},{"w":5020,"y":2.17},{"w":5035,"y":1.47},{"w":5050,"y":1.08},{"w":5065,"y":0.68},{"w":5080,"y":0.55},{"w":5100,"y":0.62},{"w":5120,"y":0.55},{"w":5140,"y":0.81},{"w":5160,"y":1.41},{"w":5175,"y":1.08},{"w":5200,"y":0.81},{"w":5230,"y":0.95},{"w":5260,"y":1.21},{"w":5280,"y":0.88},{"w":5300,"y":1.61},{"w":5320,"y":1.08},{"w":5350,"y":0.81},{"w":5380,"y":0.95},{"w":5410,"y":1.38},{"w":5440,"y":0.91},{"w":5470,"y":0.85},{"w":5500,"y":0.88},{"w":5525,"y":2.17},{"w":5545,"y":1.05},{"w":5570,"y":0.85},{"w":5600,"y":0.95},{"w":5640,"y":0.88},{"w":5670,"y":0.91},{"w":5700,"y":0.95},{"w":5730,"y":1.01},{"w":5750,"y":1.88},{"w":5770,"y":1.08},{"w":5800,"y":0.91},{"w":5830,"y":0.88},{"w":5855,"y":2.79},{"w":5865,"y":4.8},{"w":5880,"y":5.5},{"w":5895,"y":4.8},{"w":5905,"y":2.79},{"w":5915,"y":0.95},{"w":5930,"y":0.91},{"w":5960,"y":1.01},{"w":5990,"y":1.05},{"w":6020,"y":0.98},{"w":6060,"y":0.91},{"w":6090,"y":1.24},{"w":6120,"y":0.85},{"w":6160,"y":0.91},{"w":6200,"y":0.81},{"w":6240,"y":1.01},{"w":6270,"y":0.78},{"w":6300,"y":0.81},{"w":6330,"y":1.08},{"w":6350,"y":1.67},{"w":6370,"y":2.53},{"w":6380,"y":2.79},{"w":6395,"y":2.27},{"w":6410,"y":1.21},{"w":6440,"y":0.95},{"w":6470,"y":1.08},{"w":6500,"y":1.34},{"w":6515,"y":1.38},{"w":6527,"y":5.5},{"w":6540,"y":4.6},{"w":6555,"y":3.5},{"w":6575,"y":4.6},{"w":6590,"y":5.5},{"w":6605,"y":4.6},{"w":6615,"y":2.0},{"w":6630,"y":1.08},{"w":6650,"y":0.88},{"w":6670,"y":1.47},{"w":6678,"y":2.56},{"w":6690,"y":1.67},{"w":6710,"y":0.88},{"w":6740,"y":0.85},{"w":6760,"y":0.78},{"w":6790,"y":0.88},{"w":6820,"y":1.18},{"w":6840,"y":0.95},{"w":6860,"y":0.75},{"w":6880,"y":0.88},{"w":6920,"y":0.95},{"w":6960,"y":0.98},{"w":7000,"y":0.95},{"w":7030,"y":1.08},{"w":7045,"y":2.79},{"w":7055,"y":5.0},{"w":7075,"y":5.0},{"w":7090,"y":2.0},{"w":7110,"y":0.95},{"w":7150,"y":0.98},{"w":7190,"y":0.91},{"w":7230,"y":1.11},{"w":7260,"y":0.98},{"w":7280,"y":1.34},{"w":7300,"y":1.08},{"w":7330,"y":0.98},{"w":7360,"y":1.01},{"w":7400,"y":0.98},{"w":7450,"y":0.95},{"w":7500,"y":0.96},{"w":7540,"y":0.98},{"w":7570,"y":0.88},{"w":7600,"y":0.38},{"w":7615,"y":0.48},{"w":7640,"y":0.68},{"w":7670,"y":0.88},{"w":7690,"y":0.98},{"w":7710,"y":1.41},{"w":7730,"y":1.08},{"w":7760,"y":0.95},{"w":7775,"y":1.28},{"w":7800,"y":0.95},{"w":7850,"y":1.01},{"w":7880,"y":1.34},{"w":7895,"y":2.03},{"w":7915,"y":1.47},{"w":7940,"y":0.98},{"w":7970,"y":0.95},{"w":8000,"y":0.91},{"w":8050,"y":0.98},{"w":8080,"y":1.08},{"w":8110,"y":0.95},{"w":8150,"y":0.88},{"w":8180,"y":0.85},{"w":8200,"y":1.05}],
"p22": [{"w":5000,"y":0.62,"e":0.18},{"w":5025,"y":0.4,"e":0.2},{"w":5050,"y":0.75,"e":0.18},{"w":5075,"y":0.85,"e":0.22},{"w":5100,"y":0.55,"e":0.25},{"w":5125,"y":0.7,"e":0.2},{"w":5150,"y":0.48,"e":0.18},{"w":5175,"y":0.95,"e":0.2},{"w":5200,"y":0.62,"e":0.18},{"w":5225,"y":0.4,"e":0.16},{"w":5250,"y":0.75,"e":0.18},{"w":5275,"y":0.55,"e":0.17},{"w":5300,"y":0.38,"e":0.18},{"w":5325,"y":0.65,"e":0.16},{"w":5350,"y":0.45,"e":0.18},{"w":5375,"y":0.7,"e":0.17},{"w":5400,"y":0.52,"e":0.16},{"w":5425,"y":0.6,"e":0.18},{"w":5450,"y":0.42,"e":0.15},{"w":5475,"y":0.68,"e":0.17},{"w":5500,"y":0.28,"e":0.15},{"w":5525,"y":0.58,"e":0.16},{"w":5550,"y":0.72,"e":0.15},{"w":5575,"y":0.5,"e":0.17},{"w":5600,"y":0.65,"e":0.15},{"w":5625,"y":0.55,"e":0.16},{"w":5650,"y":0.8,"e":0.15},{"w":5675,"y":0.62,"e":0.14},{"w":5700,"y":0.88,"e":0.15},{"w":5725,"y":0.7,"e":0.14},{"w":5750,"y":1.02,"e":0.15},{"w":5775,"y":0.55,"e":0.14},{"w":5800,"y":0.4,"e":0.13},{"w":5825,"y":0.55,"e":0.14},{"w":5850,"y":0.42,"e":0.13},{"w":5875,"y":0.58,"e":0.14},{"w":5900,"y":0.45,"e":0.15},{"w":5925,"y":0.52,"e":0.13},{"w":5950,"y":0.6,"e":0.14},{"w":5975,"y":0.48,"e":0.15},{"w":6000,"y":0.72,"e":0.14},{"w":6025,"y":0.5,"e":0.13},{"w":6050,"y":0.38,"e":0.14},{"w":6075,"y":0.55,"e":0.15},{"w":6100,"y":0.42,"e":0.13},{"w":6125,"y":0.3,"e":0.14},{"w":6150,"y":0.48,"e":0.15},{"w":6175,"y":0.35,"e":0.14},{"w":6200,"y":0.55,"e":0.13},{"w":6225,"y":0.4,"e":0.15},{"w":6250,"y":0.62,"e":0.14},{"w":6275,"y":0.45,"e":0.13},{"w":6300,"y":0.3,"e":0.12},{"w":6325,"y":0.38,"e":0.13},{"w":6350,"y":0.25,"e":0.12},{"w":6375,"y":0.32,"e":0.13},{"w":6400,"y":0.18,"e":0.12},{"w":6425,"y":0.28,"e":0.13},{"w":6450,"y":0.4,"e":0.14},{"w":6475,"y":0.52,"e":0.13},{"w":6500,"y":0.35,"e":0.12},{"w":6525,"y":0.62,"e":0.13},{"w":6550,"y":0.45,"e":0.12},{"w":6575,"y":0.3,"e":0.13},{"w":6600,"y":0.42,"e":0.12},{"w":6625,"y":0.5,"e":0.13},{"w":6650,"y":0.35,"e":0.12},{"w":6675,"y":0.45,"e":0.13},{"w":6700,"y":0.3,"e":0.12},{"w":6725,"y":0.2,"e":0.13},{"w":6750,"y":0.05,"e":0.12},{"w":6775,"y":0.22,"e":0.13},{"w":6800,"y":0.35,"e":0.12},{"w":6825,"y":0.48,"e":0.13},{"w":6850,"y":0.4,"e":0.14},{"w":6875,"y":0.55,"e":0.13},{"w":6900,"y":0.45,"e":0.14},{"w":6925,"y":0.38,"e":0.13},{"w":6950,"y":0.5,"e":0.14},{"w":6975,"y":0.58,"e":0.13},{"w":7000,"y":0.65,"e":0.14},{"w":7025,"y":0.72,"e":0.13},{"w":7050,"y":0.55,"e":0.14},{"w":7075,"y":0.62,"e":0.13},{"w":7100,"y":0.5,"e":0.14},{"w":7125,"y":0.7,"e":0.13},{"w":7150,"y":0.58,"e":0.14},{"w":7175,"y":0.45,"e":0.13},{"w":7200,"y":0.52,"e":0.14},{"w":7225,"y":0.4,"e":0.13},{"w":7250,"y":0.48,"e":0.14},{"w":7275,"y":0.35,"e":0.13},{"w":7300,"y":0.28,"e":0.12},{"w":7325,"y":0.42,"e":0.13},{"w":7350,"y":0.15,"e":0.12},{"w":7375,"y":0.08,"e":0.11},{"w":7400,"y":0.2,"e":0.12},{"w":7425,"y":0.1,"e":0.11},{"w":7450,"y":0.25,"e":0.12},{"w":7475,"y":0.32,"e":0.13},{"w":7500,"y":0.4,"e":0.14},{"w":7525,"y":0.3,"e":0.13},{"w":7550,"y":0.45,"e":0.14},{"w":7575,"y":0.35,"e":0.13},{"w":7600,"y":0.28,"e":0.12},{"w":7625,"y":0.42,"e":0.13},{"w":7650,"y":0.5,"e":0.14},{"w":7675,"y":0.38,"e":0.13},{"w":7700,"y":0.45,"e":0.14},{"w":7725,"y":0.55,"e":0.13},{"w":7750,"y":0.4,"e":0.14},{"w":7775,"y":0.5,"e":0.13},{"w":7800,"y":0.42,"e":0.14},{"w":7825,"y":0.58,"e":0.13},{"w":7850,"y":0.48,"e":0.14},{"w":7875,"y":0.55,"e":0.13},{"w":7900,"y":0.05,"e":0.11},{"w":7925,"y":0.4,"e":0.13},{"w":7950,"y":0.45,"e":0.14}],
"i32": [{"w":5000,"y":2.04},{"w":5020,"y":1.61},{"w":5040,"y":1.08},{"w":5060,"y":0.69},{"w":5080,"y":0.54},{"w":5100,"y":0.62},{"w":5130,"y":0.75},{"w":5160,"y":0.97},{"w":5180,"y":0.89},{"w":5210,"y":0.69},{"w":5250,"y":0.62},{"w":5280,"y":0.89},{"w":5300,"y":1.94},{"w":5320,"y":1.41},{"w":5340,"y":0.89},{"w":5370,"y":0.69},{"w":5390,"y":0.79},{"w":5410,"y":1.05},{"w":5430,"y":0.82},{"w":5460,"y":0.66},{"w":5490,"y":0.69},{"w":5510,"y":1.15},{"w":5530,"y":1.67},{"w":5550,"y":1.15},{"w":5580,"y":0.75},{"w":5620,"y":0.62},{"w":5660,"y":0.69},{"w":5700,"y":0.89},{"w":5730,"y":1.28},{"w":5750,"y":1.58},{"w":5770,"y":1.22},{"w":5800,"y":0.79},{"w":5830,"y":0.79},{"w":5850,"y":1.41},{"w":5870,"y":3.26},{"w":5890,"y":1.81},{"w":5910,"y":0.89},{"w":5950,"y":0.92},{"w":5980,"y":0.89},{"w":6020,"y":0.97},{"w":6060,"y":1.12},{"w":6090,"y":1.23},{"w":6120,"y":1.02},{"w":6160,"y":0.82},{"w":6200,"y":0.81},{"w":6240,"y":0.82},{"w":6280,"y":0.79},{"w":6300,"y":0.82},{"w":6330,"y":1.02},{"w":6355,"y":1.81},{"w":6368,"y":4.6},{"w":6382,"y":5.5},{"w":6395,"y":4.6},{"w":6410,"y":2.0},{"w":6425,"y":1.28},{"w":6450,"y":0.89},{"w":6480,"y":1.02},{"w":6500,"y":1.94},{"w":6512,"y":4.6},{"w":6520,"y":5.5},{"w":6532,"y":4.6},{"w":6555,"y":2.8},{"w":6585,"y":4.6},{"w":6597,"y":5.5},{"w":6607,"y":4.6},{"w":6615,"y":2.07},{"w":6635,"y":1.15},{"w":6660,"y":1.15},{"w":6678,"y":1.48},{"w":6700,"y":1.15},{"w":6740,"y":0.89},{"w":6780,"y":0.89},{"w":6810,"y":1.02},{"w":6830,"y":1.48},{"w":6850,"y":0.99},{"w":6870,"y":0.75},{"w":6890,"y":0.89},{"w":6920,"y":1.08},{"w":6950,"y":0.89},{"w":6990,"y":0.92},{"w":7020,"y":1.08},{"w":7045,"y":1.94},{"w":7065,"y":2.7},{"w":7085,"y":1.94},{"w":7105,"y":1.02},{"w":7150,"y":0.89},{"w":7200,"y":0.92},{"w":7240,"y":1.02},{"w":7280,"y":1.16},{"w":7310,"y":1.15},{"w":7350,"y":1.08},{"w":7400,"y":1.05},{"w":7450,"y":1.02},{"w":7500,"y":0.95},{"w":7550,"y":0.82},{"w":7600,"y":0.69},{"w":7630,"y":0.54},{"w":7660,"y":0.75},{"w":7700,"y":0.92},{"w":7720,"y":0.99},{"w":7760,"y":0.85},{"w":7800,"y":0.89},{"w":7840,"y":0.92},{"w":7870,"y":1.15},{"w":7890,"y":3.23},{"w":7910,"y":1.68},{"w":7930,"y":1.08},{"w":7960,"y":0.95},{"w":8000,"y":0.92},{"w":8050,"y":0.95},{"w":8100,"y":0.97},{"w":8150,"y":0.95},{"w":8180,"y":1.02},{"w":8200,"y":1.16}],
"p32": [{"w":5000,"y":0.3,"e":0.07},{"w":5025,"y":0.42,"e":0.07},{"w":5050,"y":0.25,"e":0.08},{"w":5075,"y":0.12,"e":0.09},{"w":5100,"y":0.32,"e":0.07},{"w":5125,"y":0.22,"e":0.07},{"w":5150,"y":0.4,"e":0.06},{"w":5175,"y":0.35,"e":0.07},{"w":5200,"y":0.28,"e":0.06},{"w":5225,"y":0.45,"e":0.07},{"w":5250,"y":0.3,"e":0.06},{"w":5275,"y":0.38,"e":0.07},{"w":5300,"y":0.5,"e":0.06},{"w":5325,"y":0.62,"e":0.06},{"w":5350,"y":0.72,"e":0.06},{"w":5375,"y":0.45,"e":0.06},{"w":5400,"y":0.3,"e":0.06},{"w":5425,"y":0.25,"e":0.06},{"w":5450,"y":0.32,"e":0.06},{"w":5475,"y":0.18,"e":0.06},{"w":5500,"y":0.28,"e":0.06},{"w":5525,"y":0.35,"e":0.06},{"w":5550,"y":0.22,"e":0.06},{"w":5575,"y":0.3,"e":0.06},{"w":5600,"y":0.62,"e":0.06},{"w":5625,"y":0.45,"e":0.06},{"w":5650,"y":0.38,"e":0.06},{"w":5675,"y":0.3,"e":0.06},{"w":5700,"y":0.4,"e":0.06},{"w":5725,"y":0.28,"e":0.06},{"w":5750,"y":0.35,"e":0.06},{"w":5775,"y":0.5,"e":0.06},{"w":5800,"y":0.3,"e":0.05},{"w":5825,"y":0.25,"e":0.05},{"w":5850,"y":0.28,"e":0.05},{"w":5875,"y":0.22,"e":0.05},{"w":5900,"y":0.3,"e":0.05},{"w":5925,"y":0.28,"e":0.05},{"w":5950,"y":0.35,"e":0.06},{"w":5975,"y":0.48,"e":0.06},{"w":6000,"y":0.62,"e":0.06},{"w":6025,"y":0.55,"e":0.06},{"w":6050,"y":0.72,"e":0.06},{"w":6075,"y":0.45,"e":0.06},{"w":6100,"y":0.38,"e":0.06},{"w":6125,"y":0.3,"e":0.06},{"w":6150,"y":0.42,"e":0.06},{"w":6175,"y":0.35,"e":0.06},{"w":6200,"y":0.48,"e":0.06},{"w":6225,"y":0.42,"e":0.06},{"w":6250,"y":0.45,"e":0.06},{"w":6275,"y":0.38,"e":0.06},{"w":6300,"y":0.4,"e":0.06},{"w":6325,"y":0.28,"e":0.06},{"w":6350,"y":0.32,"e":0.06},{"w":6375,"y":0.25,"e":0.06},{"w":6400,"y":0.35,"e":0.06},{"w":6425,"y":0.42,"e":0.06},{"w":6450,"y":0.38,"e":0.06},{"w":6475,"y":0.3,"e":0.06},{"w":6500,"y":0.45,"e":0.06},{"w":6525,"y":0.4,"e":0.06},{"w":6550,"y":0.35,"e":0.06},{"w":6575,"y":0.28,"e":0.06},{"w":6600,"y":0.55,"e":0.06},{"w":6625,"y":0.68,"e":0.06},{"w":6650,"y":0.45,"e":0.06},{"w":6675,"y":0.3,"e":0.06},{"w":6700,"y":0.22,"e":0.06},{"w":6725,"y":0.15,"e":0.06},{"w":6750,"y":0.25,"e":0.06},{"w":6775,"y":0.3,"e":0.06},{"w":6800,"y":0.35,"e":0.06},{"w":6825,"y":0.42,"e":0.06},{"w":6850,"y":0.62,"e":0.06},{"w":6875,"y":0.58,"e":0.06},{"w":6900,"y":0.45,"e":0.06},{"w":6925,"y":0.32,"e":0.06},{"w":6950,"y":0.4,"e":0.06},{"w":6975,"y":0.28,"e":0.06},{"w":7000,"y":0.18,"e":0.06},{"w":7025,"y":0.25,"e":0.06},{"w":7050,"y":0.3,"e":0.06},{"w":7075,"y":0.35,"e":0.06},{"w":7100,"y":0.42,"e":0.06},{"w":7125,"y":0.5,"e":0.06},{"w":7150,"y":0.55,"e":0.06},{"w":7175,"y":0.42,"e":0.06},{"w":7200,"y":0.3,"e":0.06},{"w":7225,"y":0.25,"e":0.06},{"w":7250,"y":0.35,"e":0.06},{"w":7275,"y":0.4,"e":0.06},{"w":7300,"y":0.45,"e":0.06},{"w":7325,"y":0.38,"e":0.06},{"w":7350,"y":0.5,"e":0.06},{"w":7375,"y":0.42,"e":0.06},{"w":7400,"y":0.35,"e":0.06},{"w":7425,"y":0.4,"e":0.06},{"w":7450,"y":0.48,"e":0.06},{"w":7475,"y":0.42,"e":0.06},{"w":7500,"y":0.55,"e":0.06},{"w":7525,"y":0.6,"e":0.06},{"w":7550,"y":0.52,"e":0.06},{"w":7575,"y":0.4,"e":0.06},{"w":7600,"y":0.3,"e":0.06},{"w":7625,"y":0.12,"e":0.06},{"w":7650,"y":0.06,"e":0.06},{"w":7675,"y":0.35,"e":0.06},{"w":7700,"y":0.4,"e":0.06},{"w":7725,"y":0.55,"e":0.06},{"w":7750,"y":0.62,"e":0.06},{"w":7775,"y":0.48,"e":0.06},{"w":7800,"y":0.35,"e":0.06},{"w":7825,"y":0.3,"e":0.06},{"w":7850,"y":0.42,"e":0.06},{"w":7875,"y":0.28,"e":0.06},{"w":7900,"y":0.38,"e":0.06},{"w":7925,"y":0.45,"e":0.06},{"w":7950,"y":0.4,"e":0.06}],
"f32": [{"w":5000,"y":0.41},{"w":8200,"y":0.41}],
"i13": [{"w":5000,"y":1.16},{"w":5020,"y":1.03},{"w":5050,"y":0.96},{"w":5100,"y":0.94},{"w":5150,"y":0.96},{"w":5200,"y":0.99},{"w":5250,"y":0.96},{"w":5280,"y":1.06},{"w":5310,"y":1.09},{"w":5350,"y":1.03},{"w":5400,"y":0.99},{"w":5450,"y":0.96},{"w":5500,"y":0.98},{"w":5550,"y":0.96},{"w":5600,"y":0.97},{"w":5650,"y":0.99},{"w":5700,"y":0.96},{"w":5710,"y":0.93},{"w":5740,"y":1.03},{"w":5760,"y":1.12},{"w":5790,"y":0.98},{"w":5820,"y":0.96},{"w":5850,"y":0.99},{"w":5870,"y":1.32},{"w":5885,"y":1.03},{"w":5900,"y":0.72},{"w":5920,"y":0.93},{"w":5950,"y":0.96},{"w":6000,"y":1.01},{"w":6050,"y":1.03},{"w":6100,"y":1.05},{"w":6150,"y":1.01},{"w":6200,"y":0.99},{"w":6250,"y":0.96},{"w":6280,"y":0.93},{"w":6300,"y":0.96},{"w":6350,"y":0.99},{"w":6400,"y":0.96},{"w":6450,"y":0.99},{"w":6500,"y":1.06},{"w":6530,"y":1.16},{"w":6550,"y":2.11},{"w":6556,"y":3.5},{"w":6563,"y":5.5},{"w":6570,"y":3.5},{"w":6577,"y":2.44},{"w":6590,"y":1.16},{"w":6620,"y":1.03},{"w":6650,"y":1.06},{"w":6680,"y":1.14},{"w":6700,"y":0.99},{"w":6750,"y":0.96},{"w":6800,"y":0.96},{"w":6850,"y":0.93},{"w":6870,"y":0.75},{"w":6890,"y":0.93},{"w":6950,"y":0.99},{"w":7000,"y":1.03},{"w":7050,"y":1.16},{"w":7070,"y":0.99},{"w":7100,"y":0.96},{"w":7150,"y":0.86},{"w":7180,"y":0.7},{"w":7200,"y":0.73},{"w":7220,"y":0.86},{"w":7240,"y":0.76},{"w":7260,"y":0.89},{"w":7300,"y":0.96},{"w":7350,"y":0.99},{"w":7400,"y":1.03},{"w":7450,"y":0.99},{"w":7500,"y":0.96},{"w":7550,"y":0.93},{"w":7580,"y":0.86},{"w":7600,"y":0.4},{"w":7620,"y":0.53},{"w":7640,"y":0.7},{"w":7660,"y":0.86},{"w":7700,"y":0.96},{"w":7750,"y":0.99},{"w":7800,"y":1.03},{"w":7850,"y":1.05},{"w":7900,"y":1.03},{"w":7950,"y":1.01},{"w":8000,"y":0.96},{"w":8050,"y":0.93},{"w":8100,"y":0.86},{"w":8130,"y":0.79},{"w":8160,"y":0.96},{"w":8200,"y":1.14}],
"p13": [{"w":5000,"y":0.45,"e":0.15},{"w":5025,"y":0.72,"e":0.18},{"w":5050,"y":0.2,"e":0.14},{"w":5075,"y":0.6,"e":0.16},{"w":5100,"y":0.85,"e":0.2},{"w":5125,"y":0.35,"e":0.15},{"w":5150,"y":0.1,"e":0.13},{"w":5175,"y":0.55,"e":0.16},{"w":5200,"y":0.7,"e":0.15},{"w":5225,"y":0.28,"e":0.14},{"w":5250,"y":0.05,"e":0.12},{"w":5275,"y":0.62,"e":0.16},{"w":5300,"y":0.9,"e":0.2},{"w":5325,"y":0.4,"e":0.14},{"w":5350,"y":0.58,"e":0.15},{"w":5375,"y":0.3,"e":0.13},{"w":5400,"y":0.66,"e":0.14},{"w":5425,"y":0.45,"e":0.13},{"w":5450,"y":0.25,"e":0.12},{"w":5475,"y":0.6,"e":0.14},{"w":5500,"y":0.52,"e":0.13},{"w":5525,"y":0.38,"e":0.12},{"w":5550,"y":0.65,"e":0.13},{"w":5575,"y":0.48,"e":0.12},{"w":5600,"y":0.3,"e":0.12},{"w":5625,"y":0.55,"e":0.13},{"w":5650,"y":0.62,"e":0.12},{"w":5675,"y":0.4,"e":0.12},{"w":5700,"y":0.5,"e":0.13},{"w":5725,"y":0.28,"e":0.11},{"w":5750,"y":0.56,"e":0.12},{"w":5775,"y":0.45,"e":0.12},{"w":5800,"y":0.35,"e":0.11},{"w":5825,"y":0.58,"e":0.12},{"w":5850,"y":0.42,"e":0.11},{"w":5875,"y":0.3,"e":0.11},{"w":5900,"y":0.52,"e":0.12},{"w":5925,"y":0.45,"e":0.11},{"w":5950,"y":0.62,"e":0.12},{"w":5975,"y":0.38,"e":0.11},{"w":6000,"y":0.48,"e":0.12},{"w":6025,"y":0.3,"e":0.11},{"w":6050,"y":0.55,"e":0.12},{"w":6075,"y":0.42,"e":0.11},{"w":6100,"y":0.35,"e":0.11},{"w":6125,"y":0.5,"e":0.12},{"w":6150,"y":0.4,"e":0.11},{"w":6175,"y":0.25,"e":0.1},{"w":6200,"y":0.45,"e":0.11},{"w":6225,"y":0.52,"e":0.12},{"w":6250,"y":0.3,"e":0.11},{"w":6275,"y":0.08,"e":0.1},{"w":6300,"y":0.42,"e":0.11},{"w":6325,"y":0.35,"e":0.1},{"w":6350,"y":0.48,"e":0.11},{"w":6375,"y":0.4,"e":0.1},{"w":6400,"y":0.28,"e":0.1},{"w":6425,"y":0.45,"e":0.11},{"w":6450,"y":0.36,"e":0.1},{"w":6475,"y":0.5,"e":0.11},{"w":6500,"y":0.32,"e":0.1},{"w":6525,"y":0.4,"e":0.1},{"w":6550,"y":0.55,"e":0.11},{"w":6575,"y":0.35,"e":0.1},{"w":6600,"y":0.42,"e":0.1},{"w":6625,"y":0.3,"e":0.1},{"w":6650,"y":0.48,"e":0.11},{"w":6675,"y":0.38,"e":0.1},{"w":6700,"y":0.25,"e":0.09},{"w":6725,"y":0.4,"e":0.1},{"w":6750,"y":0.32,"e":0.1},{"w":6775,"y":0.45,"e":0.1},{"w":6800,"y":0.35,"e":0.1},{"w":6825,"y":0.28,"e":0.09},{"w":6850,"y":0.4,"e":0.1},{"w":6875,"y":0.33,"e":0.09},{"w":6900,"y":0.42,"e":0.1},{"w":6925,"y":0.3,"e":0.09},{"w":6950,"y":0.36,"e":0.1},{"w":6975,"y":0.25,"e":0.09},{"w":7000,"y":0.38,"e":0.1},{"w":7025,"y":0.32,"e":0.09},{"w":7050,"y":0.42,"e":0.1},{"w":7075,"y":0.28,"e":0.09},{"w":7100,"y":0.35,"e":0.09},{"w":7125,"y":0.22,"e":0.09},{"w":7150,"y":0.38,"e":0.1},{"w":7175,"y":0.3,"e":0.09},{"w":7200,"y":0.4,"e":0.1},{"w":7225,"y":0.26,"e":0.09},{"w":7250,"y":0.34,"e":0.09},{"w":7275,"y":0.4,"e":0.1},{"w":7300,"y":0.28,"e":0.09},{"w":7325,"y":0.35,"e":0.09},{"w":7350,"y":0.22,"e":0.08},{"w":7375,"y":0.32,"e":0.09},{"w":7400,"y":0.38,"e":0.09},{"w":7425,"y":0.27,"e":0.09},{"w":7450,"y":0.33,"e":0.09},{"w":7475,"y":0.2,"e":0.08},{"w":7500,"y":0.3,"e":0.09},{"w":7525,"y":0.36,"e":0.09},{"w":7550,"y":0.25,"e":0.08},{"w":7575,"y":0.32,"e":0.09},{"w":7600,"y":0.28,"e":0.09},{"w":7625,"y":0.45,"e":0.1},{"w":7650,"y":0.3,"e":0.09},{"w":7675,"y":0.22,"e":0.08},{"w":7700,"y":0.35,"e":0.09},{"w":7725,"y":0.26,"e":0.08},{"w":7750,"y":0.3,"e":0.09},{"w":7775,"y":0.2,"e":0.08},{"w":7800,"y":0.33,"e":0.09},{"w":7825,"y":0.25,"e":0.08},{"w":7850,"y":0.3,"e":0.09},{"w":7875,"y":0.18,"e":0.08},{"w":7900,"y":0.28,"e":0.08},{"w":7925,"y":0.35,"e":0.09},{"w":7950,"y":0.22,"e":0.08},{"w":7975,"y":0.3,"e":0.09},{"w":8000,"y":0.26,"e":0.08},{"w":8025,"y":0.15,"e":0.08},{"w":8050,"y":0.32,"e":0.09},{"w":8075,"y":0.24,"e":0.08},{"w":8100,"y":0.28,"e":0.08},{"w":8125,"y":0.18,"e":0.08},{"w":8150,"y":0.3,"e":0.09},{"w":8175,"y":0.22,"e":0.08},{"w":8200,"y":0.26,"e":0.08}],
"f13": [{"w":5000,"y":0.53},{"w":5400,"y":0.48},{"w":5800,"y":0.437},{"w":6200,"y":0.401},{"w":6600,"y":0.369},{"w":7000,"y":0.342},{"w":7400,"y":0.318},{"w":7800,"y":0.297},{"w":8200,"y":0.279}],
"i23": [{"w":5000,"y":1.18},{"w":5025,"y":1.08},{"w":5050,"y":0.98},{"w":5100,"y":0.96},{"w":5150,"y":0.98},{"w":5200,"y":1.01},{"w":5250,"y":1.05},{"w":5280,"y":1.09},{"w":5310,"y":1.08},{"w":5350,"y":1.03},{"w":5400,"y":1.0},{"w":5450,"y":1.01},{"w":5500,"y":0.98},{"w":5550,"y":1.0},{"w":5600,"y":1.01},{"w":5650,"y":0.98},{"w":5700,"y":0.96},{"w":5740,"y":1.05},{"w":5760,"y":1.16},{"w":5790,"y":1.0},{"w":5830,"y":0.98},{"w":5860,"y":1.05},{"w":5875,"y":1.38},{"w":5890,"y":0.98},{"w":5905,"y":0.76},{"w":5930,"y":0.95},{"w":5970,"y":1.0},{"w":6000,"y":1.03},{"w":6050,"y":1.05},{"w":6100,"y":1.07},{"w":6150,"y":1.05},{"w":6200,"y":1.01},{"w":6250,"y":0.98},{"w":6280,"y":0.93},{"w":6320,"y":0.98},{"w":6370,"y":1.01},{"w":6420,"y":1.0},{"w":6470,"y":1.03},{"w":6510,"y":1.08},{"w":6535,"y":1.21},{"w":6553,"y":2.27},{"w":6558,"y":3.6},{"w":6563,"y":5.5},{"w":6568,"y":3.6},{"w":6573,"y":2.6},{"w":6590,"y":1.18},{"w":6620,"y":1.03},{"w":6650,"y":1.07},{"w":6680,"y":1.19},{"w":6700,"y":1.01},{"w":6750,"y":0.98},{"w":6800,"y":0.98},{"w":6850,"y":0.95},{"w":6875,"y":0.77},{"w":6900,"y":0.95},{"w":6950,"y":1.01},{"w":7000,"y":1.03},{"w":7050,"y":1.2},{"w":7070,"y":1.03},{"w":7120,"y":0.96},{"w":7160,"y":0.88},{"w":7185,"y":0.74},{"w":7205,"y":0.76},{"w":7225,"y":0.89},{"w":7245,"y":0.78},{"w":7270,"y":0.91},{"w":7300,"y":0.98},{"w":7350,"y":1.01},{"w":7400,"y":1.03},{"w":7450,"y":1.01},{"w":7500,"y":1.0},{"w":7550,"y":0.96},{"w":7580,"y":0.88},{"w":7600,"y":0.52},{"w":7620,"y":0.55},{"w":7640,"y":0.74},{"w":7670,"y":0.89},{"w":7700,"y":0.98},{"w":7750,"y":1.01},{"w":7800,"y":1.03},{"w":7850,"y":1.05},{"w":7900,"y":1.03},{"w":7950,"y":1.01},{"w":8000,"y":0.98},{"w":8050,"y":0.95},{"w":8100,"y":0.89},{"w":8130,"y":0.85},{"w":8160,"y":0.95},{"w":8200,"y":1.05}],
"p23": [{"w":5000,"y":0.55,"e":0.18},{"w":5025,"y":0.3,"e":0.16},{"w":5050,"y":0.85,"e":0.2},{"w":5075,"y":0.1,"e":0.15},{"w":5100,"y":0.65,"e":0.18},{"w":5125,"y":0.95,"e":0.22},{"w":5150,"y":-0.05,"e":0.15},{"w":5175,"y":0.48,"e":0.16},{"w":5200,"y":0.72,"e":0.18},{"w":5225,"y":0.25,"e":0.14},{"w":5250,"y":0.6,"e":0.15},{"w":5275,"y":0.4,"e":0.14},{"w":5300,"y":0.68,"e":0.15},{"w":5325,"y":0.35,"e":0.13},{"w":5350,"y":0.55,"e":0.14},{"w":5375,"y":0.62,"e":0.13},{"w":5400,"y":0.42,"e":0.13},{"w":5425,"y":0.7,"e":0.14},{"w":5450,"y":0.5,"e":0.13},{"w":5475,"y":0.38,"e":0.12},{"w":5500,"y":0.58,"e":0.13},{"w":5525,"y":0.45,"e":0.12},{"w":5550,"y":0.62,"e":0.13},{"w":5575,"y":0.35,"e":0.12},{"w":5600,"y":0.52,"e":0.12},{"w":5625,"y":0.44,"e":0.12},{"w":5650,"y":0.6,"e":0.13},{"w":5675,"y":0.38,"e":0.12},{"w":5700,"y":0.5,"e":0.12},{"w":5725,"y":0.42,"e":0.11},{"w":5750,"y":0.55,"e":0.12},{"w":5775,"y":0.32,"e":0.11},{"w":5800,"y":0.48,"e":0.12},{"w":5825,"y":0.4,"e":0.11},{"w":5850,"y":0.56,"e":0.12},{"w":5875,"y":0.36,"e":0.11},{"w":5900,"y":0.45,"e":0.11},{"w":5925,"y":0.52,"e":0.12},{"w":5950,"y":0.38,"e":0.11},{"w":5975,"y":0.47,"e":0.11},{"w":6000,"y":0.55,"e":0.12},{"w":6025,"y":0.35,"e":0.11},{"w":6050,"y":0.44,"e":0.11},{"w":6075,"y":0.5,"e":0.11},{"w":6100,"y":0.3,"e":0.1},{"w":6125,"y":0.42,"e":0.11},{"w":6150,"y":0.48,"e":0.11},{"w":6175,"y":0.36,"e":0.1},{"w":6200,"y":0.45,"e":0.11},{"w":6225,"y":0.28,"e":0.1},{"w":6250,"y":0.4,"e":0.11},{"w":6275,"y":0.46,"e":0.11},{"w":6300,"y":0.34,"e":0.1},{"w":6325,"y":0.42,"e":0.1},{"w":6350,"y":0.3,"e":0.1},{"w":6375,"y":0.45,"e":0.11},{"w":6400,"y":0.38,"e":0.1},{"w":6425,"y":0.32,"e":0.1},{"w":6450,"y":0.44,"e":0.1},{"w":6475,"y":0.35,"e":0.1},{"w":6500,"y":0.4,"e":0.1},{"w":6525,"y":0.28,"e":0.09},{"w":6550,"y":0.38,"e":0.1},{"w":6575,"y":0.45,"e":0.1},{"w":6600,"y":0.33,"e":0.1},{"w":6625,"y":0.4,"e":0.1},{"w":6650,"y":0.3,"e":0.09},{"w":6675,"y":0.38,"e":0.1},{"w":6700,"y":0.42,"e":0.1},{"w":6725,"y":0.28,"e":0.09},{"w":6750,"y":0.35,"e":0.09},{"w":6775,"y":0.4,"e":0.1},{"w":6800,"y":0.3,"e":0.09},{"w":6825,"y":0.37,"e":0.09},{"w":6850,"y":0.42,"e":0.1},{"w":6875,"y":0.25,"e":0.09},{"w":6900,"y":0.34,"e":0.09},{"w":6925,"y":0.38,"e":0.09},{"w":6950,"y":0.28,"e":0.09},{"w":6975,"y":0.35,"e":0.09},{"w":7000,"y":0.4,"e":0.1},{"w":7025,"y":0.26,"e":0.09},{"w":7050,"y":0.33,"e":0.09},{"w":7075,"y":0.37,"e":0.09},{"w":7100,"y":0.24,"e":0.08},{"w":7125,"y":0.32,"e":0.09},{"w":7150,"y":0.36,"e":0.09},{"w":7175,"y":0.15,"e":0.08},{"w":7200,"y":0.3,"e":0.09},{"w":7225,"y":0.34,"e":0.09},{"w":7250,"y":0.22,"e":0.08},{"w":7275,"y":0.3,"e":0.09},{"w":7300,"y":0.36,"e":0.09},{"w":7325,"y":0.25,"e":0.08},{"w":7350,"y":0.32,"e":0.09},{"w":7375,"y":0.28,"e":0.08},{"w":7400,"y":0.34,"e":0.09},{"w":7425,"y":0.22,"e":0.08},{"w":7450,"y":0.3,"e":0.09},{"w":7475,"y":0.35,"e":0.09},{"w":7500,"y":0.26,"e":0.08},{"w":7525,"y":0.31,"e":0.09},{"w":7550,"y":0.24,"e":0.08},{"w":7575,"y":0.33,"e":0.09},{"w":7600,"y":0.4,"e":0.1},{"w":7625,"y":0.3,"e":0.09},{"w":7650,"y":0.26,"e":0.08},{"w":7675,"y":0.32,"e":0.09},{"w":7700,"y":0.22,"e":0.08},{"w":7725,"y":0.3,"e":0.08},{"w":7750,"y":0.27,"e":0.08},{"w":7775,"y":0.34,"e":0.09},{"w":7800,"y":0.2,"e":0.08},{"w":7825,"y":0.29,"e":0.08},{"w":7850,"y":0.33,"e":0.09},{"w":7875,"y":0.24,"e":0.08},{"w":7900,"y":0.3,"e":0.08},{"w":7925,"y":0.36,"e":0.09},{"w":7950,"y":0.22,"e":0.08},{"w":7975,"y":0.28,"e":0.08},{"w":8000,"y":0.33,"e":0.09},{"w":8025,"y":0.2,"e":0.08},{"w":8050,"y":0.28,"e":0.08},{"w":8075,"y":0.35,"e":0.09},{"w":8100,"y":0.18,"e":0.08},{"w":8125,"y":0.26,"e":0.08},{"w":8150,"y":0.3,"e":0.08},{"w":8175,"y":0.15,"e":0.08},{"w":8200,"y":0.25,"e":0.08}],
"f23": [{"w":5000,"y":0.535},{"w":5400,"y":0.484},{"w":5800,"y":0.441},{"w":6200,"y":0.405},{"w":6600,"y":0.373},{"w":7000,"y":0.345},{"w":7400,"y":0.321},{"w":7800,"y":0.3},{"w":8200,"y":0.281}],
"i33": [{"w":5000,"y":1.02},{"w":5040,"y":1.08},{"w":5070,"y":1.15},{"w":5100,"y":1.08},{"w":5150,"y":1.14},{"w":5170,"y":1.16},{"w":5200,"y":1.08},{"w":5250,"y":1.05},{"w":5300,"y":1.02},{"w":5350,"y":0.95},{"w":5400,"y":0.97},{"w":5450,"y":0.94},{"w":5500,"y":0.95},{"w":5550,"y":0.97},{"w":5600,"y":0.95},{"w":5650,"y":0.99},{"w":5700,"y":0.99},{"w":5750,"y":1.08},{"w":5780,"y":0.99},{"w":5820,"y":1.02},{"w":5850,"y":1.05},{"w":5870,"y":1.2},{"w":5890,"y":0.77},{"w":5920,"y":0.95},{"w":5960,"y":0.99},{"w":6000,"y":1.02},{"w":6050,"y":1.02},{"w":6100,"y":0.99},{"w":6150,"y":0.97},{"w":6200,"y":0.94},{"w":6250,"y":0.9},{"w":6300,"y":0.89},{"w":6350,"y":0.95},{"w":6400,"y":0.99},{"w":6450,"y":0.99},{"w":6500,"y":1.0},{"w":6530,"y":1.15},{"w":6550,"y":2.07},{"w":6556,"y":3.5},{"w":6563,"y":5.5},{"w":6570,"y":3.5},{"w":6577,"y":2.4},{"w":6590,"y":1.15},{"w":6620,"y":1.02},{"w":6680,"y":1.05},{"w":6700,"y":0.99},{"w":6750,"y":0.99},{"w":6800,"y":0.95},{"w":6850,"y":0.92},{"w":6870,"y":0.77},{"w":6900,"y":0.92},{"w":6950,"y":0.97},{"w":7000,"y":0.99},{"w":7050,"y":1.07},{"w":7080,"y":0.97},{"w":7130,"y":0.92},{"w":7160,"y":0.85},{"w":7180,"y":0.72},{"w":7210,"y":0.82},{"w":7230,"y":0.75},{"w":7260,"y":0.92},{"w":7300,"y":0.97},{"w":7350,"y":0.99},{"w":7400,"y":0.97},{"w":7450,"y":0.99},{"w":7500,"y":0.95},{"w":7550,"y":0.92},{"w":7580,"y":0.89},{"w":7600,"y":0.26},{"w":7620,"y":0.42},{"w":7640,"y":0.75},{"w":7660,"y":0.89},{"w":7700,"y":0.97},{"w":7750,"y":0.99},{"w":7800,"y":1.0},{"w":7850,"y":1.02},{"w":7900,"y":1.03},{"w":7950,"y":0.99},{"w":8000,"y":0.97},{"w":8050,"y":0.94},{"w":8100,"y":0.9},{"w":8130,"y":0.82},{"w":8160,"y":0.85},{"w":8200,"y":0.92}],
"p33": [{"w":5000,"y":0.4,"e":0.16},{"w":5025,"y":0.62,"e":0.18},{"w":5050,"y":0.15,"e":0.14},{"w":5075,"y":0.5,"e":0.16},{"w":5100,"y":0.75,"e":0.18},{"w":5125,"y":0.2,"e":0.14},{"w":5150,"y":0.45,"e":0.15},{"w":5175,"y":-0.1,"e":0.13},{"w":5200,"y":0.58,"e":0.16},{"w":5225,"y":0.3,"e":0.14},{"w":5250,"y":0.68,"e":0.17},{"w":5275,"y":0.1,"e":0.13},{"w":5300,"y":0.52,"e":0.15},{"w":5325,"y":0.35,"e":0.13},{"w":5350,"y":0.45,"e":0.14},{"w":5375,"y":0.25,"e":0.13},{"w":5400,"y":0.5,"e":0.14},{"w":5425,"y":0.38,"e":0.12},{"w":5450,"y":0.3,"e":0.12},{"w":5475,"y":0.46,"e":0.13},{"w":5500,"y":0.35,"e":0.12},{"w":5525,"y":0.42,"e":0.12},{"w":5550,"y":0.28,"e":0.11},{"w":5575,"y":0.4,"e":0.12},{"w":5600,"y":0.33,"e":0.11},{"w":5625,"y":0.45,"e":0.12},{"w":5650,"y":0.3,"e":0.11},{"w":5675,"y":0.38,"e":0.12},{"w":5700,"y":0.42,"e":0.12},{"w":5725,"y":0.28,"e":0.11},{"w":5750,"y":0.36,"e":0.11},{"w":5775,"y":0.44,"e":0.12},{"w":5800,"y":0.3,"e":0.11},{"w":5825,"y":0.38,"e":0.11},{"w":5850,"y":0.25,"e":0.1},{"w":5875,"y":0.34,"e":0.11},{"w":5900,"y":0.42,"e":0.11},{"w":5925,"y":0.5,"e":0.12},{"w":5950,"y":0.36,"e":0.11},{"w":5975,"y":0.55,"e":0.12},{"w":6000,"y":0.4,"e":0.11},{"w":6025,"y":0.3,"e":0.1},{"w":6050,"y":0.38,"e":0.11},{"w":6075,"y":0.27,"e":0.1},{"w":6100,"y":0.35,"e":0.1},{"w":6125,"y":0.4,"e":0.11},{"w":6150,"y":0.3,"e":0.1},{"w":6175,"y":0.36,"e":0.1},{"w":6200,"y":0.25,"e":0.1},{"w":6225,"y":0.33,"e":0.1},{"w":6250,"y":0.38,"e":0.1},{"w":6275,"y":0.28,"e":0.1},{"w":6300,"y":0.32,"e":0.1},{"w":6325,"y":0.4,"e":0.1},{"w":6350,"y":0.26,"e":0.09},{"w":6375,"y":0.34,"e":0.1},{"w":6400,"y":0.3,"e":0.09},{"w":6425,"y":0.37,"e":0.1},{"w":6450,"y":0.24,"e":0.09},{"w":6475,"y":0.32,"e":0.09},{"w":6500,"y":0.42,"e":0.1},{"w":6525,"y":0.28,"e":0.09},{"w":6550,"y":0.33,"e":0.09},{"w":6575,"y":0.25,"e":0.09},{"w":6600,"y":0.3,"e":0.09},{"w":6625,"y":0.36,"e":0.09},{"w":6650,"y":0.22,"e":0.08},{"w":6675,"y":0.3,"e":0.09},{"w":6700,"y":0.34,"e":0.09},{"w":6725,"y":0.2,"e":0.08},{"w":6750,"y":0.28,"e":0.09},{"w":6775,"y":0.33,"e":0.09},{"w":6800,"y":0.24,"e":0.08},{"w":6825,"y":0.3,"e":0.09},{"w":6850,"y":0.36,"e":0.09},{"w":6875,"y":0.18,"e":0.08},{"w":6900,"y":0.27,"e":0.08},{"w":6925,"y":0.32,"e":0.09},{"w":6950,"y":0.22,"e":0.08},{"w":6975,"y":0.29,"e":0.08},{"w":7000,"y":0.34,"e":0.09},{"w":7025,"y":0.2,"e":0.08},{"w":7050,"y":0.27,"e":0.08},{"w":7075,"y":0.31,"e":0.08},{"w":7100,"y":0.18,"e":0.08},{"w":7125,"y":0.26,"e":0.08},{"w":7150,"y":0.3,"e":0.08},{"w":7175,"y":0.14,"e":0.07},{"w":7200,"y":0.24,"e":0.08},{"w":7225,"y":0.28,"e":0.08},{"w":7250,"y":0.18,"e":0.07},{"w":7275,"y":0.25,"e":0.08},{"w":7300,"y":0.3,"e":0.08},{"w":7325,"y":0.2,"e":0.07},{"w":7350,"y":0.26,"e":0.08},{"w":7375,"y":0.22,"e":0.07},{"w":7400,"y":0.28,"e":0.08},{"w":7425,"y":0.15,"e":0.07},{"w":7450,"y":0.23,"e":0.08},{"w":7475,"y":0.29,"e":0.08},{"w":7500,"y":0.19,"e":0.07},{"w":7525,"y":0.25,"e":0.08},{"w":7550,"y":0.18,"e":0.07},{"w":7575,"y":0.26,"e":0.08},{"w":7600,"y":0.32,"e":0.08},{"w":7625,"y":0.22,"e":0.07},{"w":7650,"y":0.18,"e":0.07},{"w":7675,"y":0.25,"e":0.08},{"w":7700,"y":0.14,"e":0.07},{"w":7725,"y":0.22,"e":0.07},{"w":7750,"y":0.2,"e":0.07},{"w":7775,"y":0.27,"e":0.08},{"w":7800,"y":0.13,"e":0.07},{"w":7825,"y":0.21,"e":0.07},{"w":7850,"y":0.25,"e":0.08},{"w":7875,"y":0.16,"e":0.07},{"w":7900,"y":0.22,"e":0.07},{"w":7925,"y":0.3,"e":0.08},{"w":7950,"y":0.15,"e":0.07},{"w":7975,"y":0.21,"e":0.07},{"w":8000,"y":0.26,"e":0.08},{"w":8025,"y":0.12,"e":0.07},{"w":8050,"y":0.2,"e":0.07},{"w":8075,"y":0.27,"e":0.08},{"w":8100,"y":0.1,"e":0.07},{"w":8125,"y":0.19,"e":0.07},{"w":8150,"y":0.24,"e":0.08},{"w":8175,"y":0.08,"e":0.07},{"w":8200,"y":0.18,"e":0.07}],
"f33": [{"w":5000,"y":0.45},{"w":5400,"y":0.398},{"w":5800,"y":0.355},{"w":6200,"y":0.319},{"w":6600,"y":0.289},{"w":7000,"y":0.263},{"w":7400,"y":0.24},{"w":7800,"y":0.221},{"w":8200,"y":0.204}]
},
"columns": 3,
"spacing": {"row": 32.5, "column": 42},
"bounds": "flush",
"resolve": {"scale": {"color": "independent"}},
"concat": [
  {"width": 338, "height": 238,
   "encoding": {"x": {"field": "w", "type": "quantitative", "scale": {"domain": [5000, 8200], "nice": false, "zero": false}, "axis": {"values": [5000,5500,6000,6500,7000,7500,8000], "format": "d", "labelFlush": false, "title": null}},
                "y": {"field": "y", "type": "quantitative", "scale": {"domain": [-0.21, 4.49], "nice": false, "zero": false}, "axis": {"values": [0.2,1.2,2.2,3.2,4.2], "format": ".1f", "labelFlush": false, "title": ["Stokes I", "P(%)"]}}},
   "layer": [
    {"data": {"name": "i11"}, "mark": {"type": "line", "strokeWidth": 1, "clip": true}, "encoding": {"color": {"datum": "I", "scale": {"domain": ["I","P","F"], "range": ["#a52a2a","#0000ff","#ff8c00"]}, "legend": {"title": null, "labelExpr": "datum.value === 'I' ? 'normalized Stokes I' : datum.value === 'P' ? ['\u00a0\u00a0\u00a0Pᵢₙₜ (%) 2021-08-10', '/2 days after outburst/'] : 'Pᵢₙₜ(λ) ∼ λ⁻²·²'", "encode": {"symbols": {"update": {"size": {"value": 900}, "shape": {"signal": "datum.value === 'P' ? 'M0,-0.5V0.5M-0.12,-0.5H0.12M-0.12,0.5H0.12M-0.04,-0.04H0.04V0.04H-0.04Z' : 'stroke'"}, "stroke": {"signal": "datum.value === 'I' ? '#a52a2a' : datum.value === 'P' ? '#0000ff' : '#ff8c00'"}, "strokeWidth": {"signal": "datum.value === 'F' ? 2 : 1"}, "fill": {"value": "transparent"}, "opacity": {"value": 1}}}, "labels": {"update": {"lineHeight": {"value": 18}}}}}}}},
    {"data": {"name": "p11"}, "mark": {"type": "errorbar", "ticks": true, "size": 3, "thickness": 1, "opacity": 0.5, "clip": true}, "encoding": {"yError": {"field": "e"}, "color": {"datum": "P"}}},
    {"data": {"name": "p11"}, "mark": {"type": "point", "filled": true, "size": 10, "opacity": 1, "clip": true}, "encoding": {"color": {"datum": "P"}}},
    {"data": {"name": "f11"}, "mark": {"type": "line", "strokeWidth": 2, "clip": true}, "encoding": {"color": {"datum": "F"}}},
    {"data": {"name": "r11"}, "mark": {"type": "rule", "color": "#999999", "strokeWidth": 1.5}, "encoding": {"y2": {"field": "y2"}}},
    {"data": {"name": "t11"}, "mark": {"type": "text", "align": "left", "baseline": "middle", "fontSize": 11.5, "color": "black"}, "encoding": {"text": {"field": "t"}}},
    {"data": {"name": "ha11"}, "mark": {"type": "text", "align": "left", "baseline": "middle", "fontSize": 11.5, "fontStyle": "italic", "color": "black"}, "encoding": {"text": {"field": "t"}}},
    {"data": {"name": "h11"}, "mark": {"type": "rule", "color": "#a0a0a0", "strokeWidth": 1.5}, "encoding": {"x2": {"field": "w2"}}},
    {"data": {"name": "h11"}, "mark": {"type": "text", "align": "left", "baseline": "bottom", "dx": -5, "dy": -1, "fontSize": 9, "color": "black"}, "encoding": {"text": {"field": "t"}}}
   ]},
  {"width": 338, "height": 238,
   "encoding": {"x": {"field": "w", "type": "quantitative", "scale": {"domain": [5000, 8200], "nice": false, "zero": false}, "axis": {"values": [5000,5500,6000,6500,7000,7500,8000], "format": "d", "labelFlush": false, "title": null}},
                "y": {"field": "y", "type": "quantitative", "scale": {"domain": [-0.21, 4.49], "nice": false, "zero": false}, "axis": {"values": [0.2,1.2,2.2,3.2,4.2], "format": ".1f", "labelFlush": false, "title": null}}},
   "layer": [
    {"data": {"name": "i12"}, "mark": {"type": "line", "strokeWidth": 1, "clip": true}, "encoding": {"color": {"datum": "I", "scale": {"domain": ["I","P"], "range": ["#a52a2a","#0000ff"]}, "legend": {"title": null, "labelExpr": "datum.value === 'I' ? 'normalized Stokes I' : ['\u00a0\u00a0\u00a0\u00a0Pᵢₙₜ (%) 2021-09-12', '/34.8 days after outburst/']", "encode": {"symbols": {"update": {"size": {"value": 900}, "shape": {"signal": "datum.value === 'P' ? 'M0,-0.5V0.5M-0.12,-0.5H0.12M-0.12,0.5H0.12M-0.04,-0.04H0.04V0.04H-0.04Z' : 'stroke'"}, "stroke": {"signal": "datum.value === 'I' ? '#a52a2a' : '#0000ff'"}, "strokeWidth": {"value": 1}, "fill": {"value": "transparent"}, "opacity": {"value": 1}}}, "labels": {"update": {"lineHeight": {"value": 18}}}}}}}},
    {"data": {"name": "p12"}, "mark": {"type": "errorbar", "ticks": true, "size": 3, "thickness": 1, "opacity": 0.5, "clip": true}, "encoding": {"yError": {"field": "e"}, "color": {"datum": "P"}}},
    {"data": {"name": "p12"}, "mark": {"type": "point", "filled": true, "size": 10, "opacity": 1, "clip": true}, "encoding": {"color": {"datum": "P"}}}
   ]},
  {"width": 338, "height": 238,
   "encoding": {"x": {"field": "w", "type": "quantitative", "scale": {"domain": [5000, 8200], "nice": false, "zero": false}, "axis": {"values": [5000,5500,6000,6500,7000,7500,8000], "format": "d", "labelFlush": false, "title": null}},
                "y": {"field": "y", "type": "quantitative", "scale": {"domain": [-0.21, 4.49], "nice": false, "zero": false}, "axis": {"values": [0.2,1.2,2.2,3.2,4.2], "format": ".1f", "labelFlush": false, "title": null}}},
   "layer": [
    {"data": {"name": "i13"}, "mark": {"type": "line", "strokeWidth": 1, "clip": true}, "encoding": {"color": {"datum": "I", "scale": {"domain": ["I","P","F"], "range": ["#a52a2a","#0000ff","#ff8c00"]}, "legend": {"title": null, "labelExpr": "datum.value === 'I' ? 'normalized Stokes I' : datum.value === 'P' ? ['\u00a0\u00a0\u00a0Pᵢₙₜ (%) 2022-06-04', '/300 days after outburst/'] : 'Pᵢₙₜ(λ) ∼ λ⁻¹·³'", "encode": {"symbols": {"update": {"size": {"value": 900}, "shape": {"signal": "datum.value === 'P' ? 'M0,-0.5V0.5M-0.12,-0.5H0.12M-0.12,0.5H0.12M-0.04,-0.04H0.04V0.04H-0.04Z' : 'stroke'"}, "stroke": {"signal": "datum.value === 'I' ? '#a52a2a' : datum.value === 'P' ? '#0000ff' : '#ff8c00'"}, "strokeWidth": {"signal": "datum.value === 'F' ? 2 : 1"}, "fill": {"value": "transparent"}, "opacity": {"value": 1}}}, "labels": {"update": {"lineHeight": {"value": 18}}}}}}}},
    {"data": {"name": "p13"}, "mark": {"type": "errorbar", "ticks": true, "size": 3, "thickness": 1, "opacity": 0.5, "clip": true}, "encoding": {"yError": {"field": "e"}, "color": {"datum": "P"}}},
    {"data": {"name": "p13"}, "mark": {"type": "point", "filled": true, "size": 10, "opacity": 1, "clip": true}, "encoding": {"color": {"datum": "P"}}},
    {"data": {"name": "f13"}, "mark": {"type": "line", "strokeWidth": 2, "clip": true}, "encoding": {"color": {"datum": "F"}}}
   ]},
  {"width": 338, "height": 238,
   "encoding": {"x": {"field": "w", "type": "quantitative", "scale": {"domain": [5000, 8200], "nice": false, "zero": false}, "axis": {"values": [5000,5500,6000,6500,7000,7500,8000], "format": "d", "labelFlush": false, "title": null}},
                "y": {"field": "y", "type": "quantitative", "scale": {"domain": [-0.21, 4.49], "nice": false, "zero": false}, "axis": {"values": [0.2,1.2,2.2,3.2,4.2], "format": ".1f", "labelFlush": false, "title": ["Stokes I", "P(%)"]}}},
   "layer": [
    {"data": {"name": "i21"}, "mark": {"type": "line", "strokeWidth": 1, "clip": true}, "encoding": {"color": {"datum": "I", "scale": {"domain": ["I","P","F"], "range": ["#a52a2a","#0000ff","#ff8c00"]}, "legend": {"title": null, "labelExpr": "datum.value === 'I' ? 'normalized Stokes I' : datum.value === 'P' ? ['\u00a0\u00a0\u00a0Pᵢₙₜ (%) 2021-08-14', '/5.9 days after outburst/'] : 'Pᵢₙₜ(λ) ∼ λ⁻⁰·⁸'", "encode": {"symbols": {"update": {"size": {"value": 900}, "shape": {"signal": "datum.value === 'P' ? 'M0,-0.5V0.5M-0.12,-0.5H0.12M-0.12,0.5H0.12M-0.04,-0.04H0.04V0.04H-0.04Z' : 'stroke'"}, "stroke": {"signal": "datum.value === 'I' ? '#a52a2a' : datum.value === 'P' ? '#0000ff' : '#ff8c00'"}, "strokeWidth": {"signal": "datum.value === 'F' ? 2 : 1"}, "fill": {"value": "transparent"}, "opacity": {"value": 1}}}, "labels": {"update": {"lineHeight": {"value": 18}}}}}}}},
    {"data": {"name": "p21"}, "mark": {"type": "errorbar", "ticks": true, "size": 3, "thickness": 1, "opacity": 0.5, "clip": true}, "encoding": {"yError": {"field": "e"}, "color": {"datum": "P"}}},
    {"data": {"name": "p21"}, "mark": {"type": "point", "filled": true, "size": 10, "opacity": 1, "clip": true}, "encoding": {"color": {"datum": "P"}}},
    {"data": {"name": "f21"}, "mark": {"type": "line", "strokeWidth": 2, "clip": true}, "encoding": {"color": {"datum": "F"}}},
    {"data": {"name": "h21"}, "mark": {"type": "rule", "color": "#a0a0a0", "strokeWidth": 1.5}, "encoding": {"x2": {"field": "w2"}}},
    {"data": {"name": "h21"}, "mark": {"type": "text", "align": "left", "baseline": "bottom", "dx": -5, "dy": -1, "fontSize": 9, "color": "black"}, "encoding": {"text": {"field": "t"}}}
   ]},
  {"width": 338, "height": 238,
   "encoding": {"x": {"field": "w", "type": "quantitative", "scale": {"domain": [5000, 8200], "nice": false, "zero": false}, "axis": {"values": [5000,5500,6000,6500,7000,7500,8000], "format": "d", "labelFlush": false, "title": null}},
                "y": {"field": "y", "type": "quantitative", "scale": {"domain": [-0.21, 4.49], "nice": false, "zero": false}, "axis": {"values": [0.2,1.2,2.2,3.2,4.2], "format": ".1f", "labelFlush": false, "title": null}}},
   "layer": [
    {"data": {"name": "i22"}, "mark": {"type": "line", "strokeWidth": 1, "clip": true}, "encoding": {"color": {"datum": "I", "scale": {"domain": ["I","P"], "range": ["#a52a2a","#0000ff"]}, "legend": {"title": null, "labelExpr": "datum.value === 'I' ? 'normalized Stokes I' : ['\u00a0\u00a0\u00a0\u00a0Pᵢₙₜ (%) 2021-09-13', '/35.8 days after outburst/']", "encode": {"symbols": {"update": {"size": {"value": 900}, "shape": {"signal": "datum.value === 'P' ? 'M0,-0.5V0.5M-0.12,-0.5H0.12M-0.12,0.5H0.12M-0.04,-0.04H0.04V0.04H-0.04Z' : 'stroke'"}, "stroke": {"signal": "datum.value === 'I' ? '#a52a2a' : '#0000ff'"}, "strokeWidth": {"value": 1}, "fill": {"value": "transparent"}, "opacity": {"value": 1}}}, "labels": {"update": {"lineHeight": {"value": 18}}}}}}}},
    {"data": {"name": "p22"}, "mark": {"type": "errorbar", "ticks": true, "size": 3, "thickness": 1, "opacity": 0.5, "clip": true}, "encoding": {"yError": {"field": "e"}, "color": {"datum": "P"}}},
    {"data": {"name": "p22"}, "mark": {"type": "point", "filled": true, "size": 10, "opacity": 1, "clip": true}, "encoding": {"color": {"datum": "P"}}}
   ]},
  {"width": 338, "height": 238,
   "encoding": {"x": {"field": "w", "type": "quantitative", "scale": {"domain": [5000, 8200], "nice": false, "zero": false}, "axis": {"values": [5000,5500,6000,6500,7000,7500,8000], "format": "d", "labelFlush": false, "title": null}},
                "y": {"field": "y", "type": "quantitative", "scale": {"domain": [-0.21, 4.49], "nice": false, "zero": false}, "axis": {"values": [0.2,1.2,2.2,3.2,4.2], "format": ".1f", "labelFlush": false, "title": null}}},
   "layer": [
    {"data": {"name": "i23"}, "mark": {"type": "line", "strokeWidth": 1, "clip": true}, "encoding": {"color": {"datum": "I", "scale": {"domain": ["I","P","F"], "range": ["#a52a2a","#0000ff","#ff8c00"]}, "legend": {"title": null, "labelExpr": "datum.value === 'I' ? 'normalized Stokes I' : datum.value === 'P' ? ['\u00a0\u00a0\u00a0Pᵢₙₜ (%) 2022-06-05', '/301 days after outburst/'] : 'Pᵢₙₜ(λ) ∼ λ⁻¹·³'", "encode": {"symbols": {"update": {"size": {"value": 900}, "shape": {"signal": "datum.value === 'P' ? 'M0,-0.5V0.5M-0.12,-0.5H0.12M-0.12,0.5H0.12M-0.04,-0.04H0.04V0.04H-0.04Z' : 'stroke'"}, "stroke": {"signal": "datum.value === 'I' ? '#a52a2a' : datum.value === 'P' ? '#0000ff' : '#ff8c00'"}, "strokeWidth": {"signal": "datum.value === 'F' ? 2 : 1"}, "fill": {"value": "transparent"}, "opacity": {"value": 1}}}, "labels": {"update": {"lineHeight": {"value": 18}}}}}}}},
    {"data": {"name": "p23"}, "mark": {"type": "errorbar", "ticks": true, "size": 3, "thickness": 1, "opacity": 0.5, "clip": true}, "encoding": {"yError": {"field": "e"}, "color": {"datum": "P"}}},
    {"data": {"name": "p23"}, "mark": {"type": "point", "filled": true, "size": 10, "opacity": 1, "clip": true}, "encoding": {"color": {"datum": "P"}}},
    {"data": {"name": "f23"}, "mark": {"type": "line", "strokeWidth": 2, "clip": true}, "encoding": {"color": {"datum": "F"}}}
   ]},
  {"width": 338, "height": 238,
   "encoding": {"x": {"field": "w", "type": "quantitative", "scale": {"domain": [5000, 8200], "nice": false, "zero": false}, "axis": {"values": [5000,5500,6000,6500,7000,7500,8000], "format": "d", "labelFlush": false, "title": "wavelength Å"}},
                "y": {"field": "y", "type": "quantitative", "scale": {"domain": [-0.21, 4.49], "nice": false, "zero": false}, "axis": {"values": [0.2,1.2,2.2,3.2,4.2], "format": ".1f", "labelFlush": false, "title": ["Stokes I", "P(%)"]}}},
   "layer": [
    {"data": {"name": "i31"}, "mark": {"type": "line", "strokeWidth": 1, "clip": true}, "encoding": {"color": {"datum": "I", "scale": {"domain": ["I","P","F"], "range": ["#a52a2a","#0000ff","#ff8c00"]}, "legend": {"title": null, "labelExpr": "datum.value === 'I' ? 'normalized Stokes I' : datum.value === 'P' ? ['\u00a0\u00a0\u00a0Pᵢₙₜ (%) 2021-08-15', '/6.7 days after outburst/'] : 'Pᵢₙₜ(λ) ∼ λ⁻⁰·⁷'", "encode": {"symbols": {"update": {"size": {"value": 900}, "shape": {"signal": "datum.value === 'P' ? 'M0,-0.5V0.5M-0.12,-0.5H0.12M-0.12,0.5H0.12M-0.04,-0.04H0.04V0.04H-0.04Z' : 'stroke'"}, "stroke": {"signal": "datum.value === 'I' ? '#a52a2a' : datum.value === 'P' ? '#0000ff' : '#ff8c00'"}, "strokeWidth": {"signal": "datum.value === 'F' ? 2 : 1"}, "fill": {"value": "transparent"}, "opacity": {"value": 1}}}, "labels": {"update": {"lineHeight": {"value": 18}}}}}}}},
    {"data": {"name": "p31"}, "mark": {"type": "errorbar", "ticks": true, "size": 3, "thickness": 1, "opacity": 0.5, "clip": true}, "encoding": {"yError": {"field": "e"}, "color": {"datum": "P"}}},
    {"data": {"name": "p31"}, "mark": {"type": "point", "filled": true, "size": 10, "opacity": 1, "clip": true}, "encoding": {"color": {"datum": "P"}}},
    {"data": {"name": "f31"}, "mark": {"type": "line", "strokeWidth": 2, "clip": true}, "encoding": {"color": {"datum": "F"}}},
    {"data": {"name": "h31"}, "mark": {"type": "rule", "color": "#a0a0a0", "strokeWidth": 1.5}, "encoding": {"x2": {"field": "w2"}}},
    {"data": {"name": "h31"}, "mark": {"type": "text", "align": "left", "baseline": "bottom", "dx": -5, "dy": -1, "fontSize": 9, "color": "black"}, "encoding": {"text": {"field": "t"}}}
   ]},
  {"width": 338, "height": 238,
   "encoding": {"x": {"field": "w", "type": "quantitative", "scale": {"domain": [5000, 8200], "nice": false, "zero": false}, "axis": {"values": [5000,5500,6000,6500,7000,7500,8000], "format": "d", "labelFlush": false, "title": "wavelength Å"}},
                "y": {"field": "y", "type": "quantitative", "scale": {"domain": [-0.21, 4.49], "nice": false, "zero": false}, "axis": {"values": [0.2,1.2,2.2,3.2,4.2], "format": ".1f", "labelFlush": false, "title": null}}},
   "layer": [
    {"data": {"name": "i32"}, "mark": {"type": "line", "strokeWidth": 1, "clip": true}, "encoding": {"color": {"datum": "I", "scale": {"domain": ["I","P","F"], "range": ["#a52a2a","#0000ff","#ff8c00"]}, "legend": {"title": null, "labelExpr": "datum.value === 'I' ? 'normalized Stokes I' : datum.value === 'P' ? ['\u00a0\u00a0\u00a0Pᵢₙₜ (%) 2021-10-29', '/81.8 days after outburst/'] : 'Pᵢₙₜ(λ) ∼ λ⁰·⁰'", "encode": {"symbols": {"update": {"size": {"value": 900}, "shape": {"signal": "datum.value === 'P' ? 'M0,-0.5V0.5M-0.12,-0.5H0.12M-0.12,0.5H0.12M-0.04,-0.04H0.04V0.04H-0.04Z' : 'stroke'"}, "stroke": {"signal": "datum.value === 'I' ? '#a52a2a' : datum.value === 'P' ? '#0000ff' : '#ff8c00'"}, "strokeWidth": {"signal": "datum.value === 'F' ? 2 : 1"}, "fill": {"value": "transparent"}, "opacity": {"value": 1}}}, "labels": {"update": {"lineHeight": {"value": 18}}}}}}}},
    {"data": {"name": "p32"}, "mark": {"type": "errorbar", "ticks": true, "size": 3, "thickness": 1, "opacity": 0.5, "clip": true}, "encoding": {"yError": {"field": "e"}, "color": {"datum": "P"}}},
    {"data": {"name": "p32"}, "mark": {"type": "point", "filled": true, "size": 10, "opacity": 1, "clip": true}, "encoding": {"color": {"datum": "P"}}},
    {"data": {"name": "f32"}, "mark": {"type": "line", "strokeWidth": 2, "clip": true}, "encoding": {"color": {"datum": "F"}}}
   ]},
  {"width": 338, "height": 238,
   "encoding": {"x": {"field": "w", "type": "quantitative", "scale": {"domain": [5000, 8200], "nice": false, "zero": false}, "axis": {"values": [5000,5500,6000,6500,7000,7500,8000], "format": "d", "labelFlush": false, "title": "wavelength Å"}},
                "y": {"field": "y", "type": "quantitative", "scale": {"domain": [-0.21, 4.49], "nice": false, "zero": false}, "axis": {"values": [0.2,1.2,2.2,3.2,4.2], "format": ".1f", "labelFlush": false, "title": null}}},
   "layer": [
    {"data": {"name": "i33"}, "mark": {"type": "line", "strokeWidth": 1, "clip": true}, "encoding": {"color": {"datum": "I", "scale": {"domain": ["I","P","F"], "range": ["#a52a2a","#0000ff","#ff8c00"]}, "legend": {"title": null, "labelExpr": "datum.value === 'I' ? 'normalized Stokes I' : datum.value === 'P' ? ['\u00a0\u00a0\u00a0Pᵢₙₜ (%) 2022-07-26', '/352 days after outburst/'] : 'Pᵢₙₜ(λ) ∼ λ⁻¹·⁶'", "encode": {"symbols": {"update": {"size": {"value": 900}, "shape": {"signal": "datum.value === 'P' ? 'M0,-0.5V0.5M-0.12,-0.5H0.12M-0.12,0.5H0.12M-0.04,-0.04H0.04V0.04H-0.04Z' : 'stroke'"}, "stroke": {"signal": "datum.value === 'I' ? '#a52a2a' : datum.value === 'P' ? '#0000ff' : '#ff8c00'"}, "strokeWidth": {"signal": "datum.value === 'F' ? 2 : 1"}, "fill": {"value": "transparent"}, "opacity": {"value": 1}}}, "labels": {"update": {"lineHeight": {"value": 18}}}}}}}},
    {"data": {"name": "p33"}, "mark": {"type": "errorbar", "ticks": true, "size": 3, "thickness": 1, "opacity": 0.5, "clip": true}, "encoding": {"yError": {"field": "e"}, "color": {"datum": "P"}}},
    {"data": {"name": "p33"}, "mark": {"type": "point", "filled": true, "size": 10, "opacity": 1, "clip": true}, "encoding": {"color": {"datum": "P"}}},
    {"data": {"name": "f33"}, "mark": {"type": "line", "strokeWidth": 2, "clip": true}, "encoding": {"color": {"datum": "F"}}}
   ]}
]
}
